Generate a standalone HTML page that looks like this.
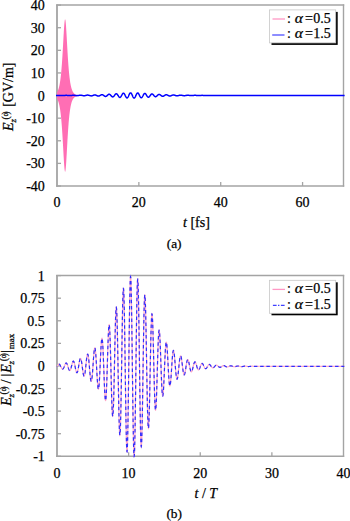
<!DOCTYPE html>
<html><head><meta charset="utf-8"><style>
html,body{margin:0;padding:0;background:#fff;width:350px;height:521px;overflow:hidden}
svg{display:block}
svg{font-family:"Liberation Serif",serif;font-size:14px;fill:#000}
text{stroke:#000;stroke-width:0.25px}
</style></head><body>
<svg width="350" height="521" viewBox="0 0 350 521">
<rect width="350" height="521" fill="#fff"/>
<path d="M57.0,4.3999999999999995V186.7" stroke="#a4a4a4" stroke-width="1.8" fill="none"/>
<path d="M343.5,4.3999999999999995V186.7" stroke="#a4a4a4" stroke-width="1.4" fill="none"/>
<path d="M56.1,5.1H344.2" stroke="#a4a4a4" stroke-width="1.5" fill="none"/>
<path d="M56.1,186.0H344.2" stroke="#a4a4a4" stroke-width="1.5" fill="none"/>
<path d="M57.0,27.71H61.0" stroke="#a4a4a4" stroke-width="1.3"/>
<text x="44.8" y="32.81" text-anchor="end">30</text>
<path d="M57.0,50.32H61.0" stroke="#a4a4a4" stroke-width="1.3"/>
<text x="44.8" y="55.42" text-anchor="end">20</text>
<path d="M57.0,72.94H61.0" stroke="#a4a4a4" stroke-width="1.3"/>
<text x="44.8" y="78.04" text-anchor="end">10</text>
<path d="M57.0,95.55H61.0" stroke="#a4a4a4" stroke-width="1.3"/>
<text x="44.8" y="100.65" text-anchor="end">0</text>
<path d="M57.0,118.16H61.0" stroke="#a4a4a4" stroke-width="1.3"/>
<text x="44.8" y="123.26" text-anchor="end">-10</text>
<path d="M57.0,140.78H61.0" stroke="#a4a4a4" stroke-width="1.3"/>
<text x="44.8" y="145.88" text-anchor="end">-20</text>
<path d="M57.0,163.39H61.0" stroke="#a4a4a4" stroke-width="1.3"/>
<text x="44.8" y="168.49" text-anchor="end">-30</text>
<path d="M57.0,5.10H61.0" stroke="#a4a4a4" stroke-width="1.3"/>
<text x="44.8" y="10.20" text-anchor="end">40</text>
<path d="M57.0,186.00H61.0" stroke="#a4a4a4" stroke-width="1.3"/>
<text x="44.8" y="191.10" text-anchor="end">-40</text>
<text x="57.00" y="206.70" text-anchor="middle">0</text>
<path d="M138.86,186.0V182.0" stroke="#a4a4a4" stroke-width="1.3"/>
<text x="138.86" y="206.70" text-anchor="middle">20</text>
<path d="M220.71,186.0V182.0" stroke="#a4a4a4" stroke-width="1.3"/>
<text x="220.71" y="206.70" text-anchor="middle">40</text>
<path d="M302.57,186.0V182.0" stroke="#a4a4a4" stroke-width="1.3"/>
<text x="302.57" y="206.70" text-anchor="middle">60</text>
<polygon points="57.00,92.33 57.08,92.20 57.17,92.07 57.25,91.93 57.33,91.78 57.41,91.63 57.50,91.47 57.58,91.31 57.66,91.14 57.74,90.96 57.83,90.78 57.91,90.59 57.99,90.39 58.08,90.18 58.16,89.97 58.24,89.75 58.32,89.51 58.41,89.27 58.49,89.02 58.57,88.76 58.65,88.49 58.74,88.20 58.82,87.91 58.90,87.61 58.98,87.29 59.07,86.96 59.15,86.62 59.23,86.26 59.32,85.89 59.40,85.50 59.48,85.10 59.56,84.69 59.65,84.26 59.73,83.81 59.81,83.34 59.89,82.86 59.98,82.36 60.06,81.84 60.14,81.30 60.23,80.73 60.31,80.15 60.39,79.55 60.47,78.92 60.56,78.27 60.64,77.59 60.72,76.89 60.80,76.17 60.89,75.41 60.97,74.64 61.05,73.83 61.14,73.00 61.22,72.13 61.30,71.24 61.38,70.32 61.47,69.36 61.55,68.38 61.63,67.37 61.71,66.32 61.80,65.24 61.88,64.13 61.96,62.98 62.05,61.81 62.13,60.60 62.21,59.36 62.29,58.09 62.38,56.79 62.46,55.46 62.54,54.11 62.62,52.73 62.71,51.32 62.79,49.89 62.87,48.44 62.95,46.97 63.04,45.49 63.12,44.00 63.20,42.50 63.29,41.00 63.37,39.51 63.45,38.02 63.53,36.54 63.62,35.08 63.70,33.64 63.78,32.24 63.86,30.87 63.95,29.54 64.03,28.27 64.11,27.06 64.20,25.91 64.28,24.83 64.36,23.84 64.44,22.93 64.53,22.11 64.61,21.39 64.69,20.77 64.77,20.26 64.86,19.86 64.94,19.57 65.02,19.40 65.11,19.35 65.19,19.42 65.27,19.60 65.35,19.90 65.44,20.32 65.52,20.84 65.60,21.47 65.68,22.21 65.77,23.04 65.85,23.96 65.93,24.97 66.02,26.05 66.10,27.21 66.18,28.43 66.26,29.71 66.35,31.04 66.43,32.41 66.51,33.82 66.59,35.26 66.68,36.72 66.76,38.20 66.84,39.70 66.92,41.20 67.01,42.70 67.09,44.19 67.17,45.68 67.26,47.16 67.34,48.63 67.42,50.07 67.50,51.50 67.59,52.90 67.67,54.28 67.75,55.64 67.83,56.96 67.92,58.26 68.00,59.52 68.08,60.76 68.17,61.96 68.25,63.13 68.33,64.27 68.41,65.38 68.50,66.45 68.58,67.50 68.66,68.51 68.74,69.49 68.83,70.44 68.91,71.36 68.99,72.24 69.08,73.10 69.16,73.93 69.24,74.74 69.32,75.51 69.41,76.26 69.49,76.98 69.57,77.68 69.65,78.35 69.74,79.00 69.82,79.62 69.90,80.23 69.98,80.81 70.07,81.37 70.15,81.90 70.23,82.42 70.32,82.92 70.40,83.40 70.48,83.87 70.56,84.31 70.65,84.74 70.73,85.16 70.81,85.55 70.89,85.94 70.98,86.31 71.06,86.66 71.14,87.00 71.23,87.33 71.31,87.65 71.39,87.95 71.47,88.24 71.56,88.52 71.64,88.79 71.72,89.05 71.80,89.30 71.89,89.54 71.97,89.77 72.05,90.00 72.14,90.21 72.22,90.42 72.30,90.61 72.38,90.80 72.47,90.99 72.55,91.16 72.63,91.33 72.71,91.50 72.80,91.65 72.88,91.80 72.96,91.95 73.05,92.09 73.13,92.22 73.21,92.35 73.29,92.47 73.38,92.59 73.46,92.70 73.54,92.81 73.62,92.92 73.71,93.02 73.79,93.12 73.87,93.21 73.95,93.30 74.04,93.39 74.12,93.47 74.20,93.55 74.29,93.63 74.37,93.70 74.45,93.78 74.53,93.84 74.62,93.91 74.70,93.97 74.78,94.03 74.86,94.09 74.95,94.15 75.03,94.20 75.11,94.26 75.20,94.31 75.28,94.35 75.36,94.40 75.44,94.44 75.53,94.49 75.61,94.53 75.69,94.57 75.77,94.61 75.86,94.64 75.94,94.68 76.02,94.71 76.11,94.74 76.19,94.77 76.27,94.80 76.35,94.83 76.44,94.86 76.52,94.89 76.60,94.91 76.68,94.94 76.77,94.96 76.85,94.98 76.93,95.01 77.02,95.03 77.10,95.05 77.18,95.07 77.26,95.08 77.35,95.10 77.43,95.12 77.51,95.14 77.59,95.15 77.68,95.17 77.76,95.18 77.84,95.20 77.92,95.21 78.01,95.22 78.09,95.24 78.17,95.25 78.26,95.26 78.34,95.27 78.42,95.28 78.50,95.29 78.59,95.30 78.67,95.31 78.75,95.32 78.83,95.33 78.92,95.34 79.00,95.35 79.08,95.35 79.17,95.36 79.25,95.37 79.33,95.38 79.41,95.38 79.50,95.39 79.58,95.40 79.66,95.40 79.74,95.41 79.83,95.41 79.91,95.42 79.99,95.42 80.08,95.43 80.16,95.43 80.24,95.44 80.32,95.44 80.41,95.45 80.49,95.45 80.57,95.45 80.65,95.46 80.74,95.46 80.82,95.46 80.90,95.47 80.98,95.47 81.07,95.47 81.15,95.48 81.23,95.48 81.32,95.48 81.40,95.49 81.48,95.49 81.56,95.49 81.65,95.49 81.73,95.49 81.81,95.50 81.89,95.50 81.98,95.50 82.06,95.50 82.14,95.50 82.23,95.51 82.31,95.51 82.39,95.51 82.47,95.51 82.56,95.51 82.64,95.51 82.72,95.52 82.80,95.52 82.89,95.52 82.97,95.52 83.05,95.52 83.14,95.52 83.22,95.52 83.30,95.52 83.38,95.52 83.47,95.53 83.55,95.53 83.63,95.53 83.71,95.53 83.80,95.53 83.88,95.53 83.96,95.53 84.05,95.53 84.13,95.53 84.21,95.53 84.29,95.53 84.38,95.53 84.46,95.53 84.54,95.54 84.62,95.54 84.71,95.54 84.79,95.54 84.87,95.54 84.95,95.54 85.04,95.54 85.12,95.54 85.20,95.54 85.29,95.54 85.37,95.54 85.45,95.54 85.53,95.54 85.62,95.54 85.70,95.54 85.78,95.54 85.86,95.54 85.95,95.54 86.03,95.54 86.11,95.54 86.20,95.54 86.28,95.54 86.36,95.54 86.44,95.54 86.53,95.54 86.61,95.54 86.69,95.54 86.77,95.54 86.86,95.55 86.94,95.55 87.02,95.55 87.11,95.55 87.19,95.55 87.27,95.55 87.35,95.55 87.44,95.55 87.52,95.55 87.60,95.55 87.68,95.55 87.77,95.55 87.85,95.55 87.93,95.55 88.02,95.55 88.10,95.55 88.18,95.55 88.26,95.55 88.35,95.55 88.43,95.55 88.51,95.55 88.59,95.55 88.68,95.55 88.76,95.55 88.84,95.55 88.92,95.55 89.01,95.55 89.09,95.55 89.17,95.55 89.26,95.55 89.34,95.55 89.42,95.55 89.50,95.55 89.59,95.55 89.67,95.55 89.75,95.55 89.83,95.55 89.92,95.55 90.00,95.55 90.00,95.55 89.92,95.55 89.83,95.55 89.75,95.55 89.67,95.55 89.59,95.55 89.50,95.55 89.42,95.55 89.34,95.55 89.26,95.55 89.17,95.55 89.09,95.55 89.01,95.55 88.92,95.55 88.84,95.55 88.76,95.55 88.68,95.55 88.59,95.55 88.51,95.55 88.43,95.55 88.35,95.55 88.26,95.55 88.18,95.55 88.10,95.55 88.02,95.55 87.93,95.55 87.85,95.55 87.77,95.55 87.68,95.55 87.60,95.55 87.52,95.55 87.44,95.55 87.35,95.55 87.27,95.55 87.19,95.55 87.11,95.55 87.02,95.55 86.94,95.55 86.86,95.55 86.77,95.56 86.69,95.56 86.61,95.56 86.53,95.56 86.44,95.56 86.36,95.56 86.28,95.56 86.20,95.56 86.11,95.56 86.03,95.56 85.95,95.56 85.86,95.56 85.78,95.56 85.70,95.56 85.62,95.56 85.53,95.56 85.45,95.56 85.37,95.56 85.29,95.56 85.20,95.56 85.12,95.56 85.04,95.56 84.95,95.56 84.87,95.56 84.79,95.56 84.71,95.56 84.62,95.56 84.54,95.56 84.46,95.57 84.38,95.57 84.29,95.57 84.21,95.57 84.13,95.57 84.05,95.57 83.96,95.57 83.88,95.57 83.80,95.57 83.71,95.57 83.63,95.57 83.55,95.57 83.47,95.57 83.38,95.58 83.30,95.58 83.22,95.58 83.14,95.58 83.05,95.58 82.97,95.58 82.89,95.58 82.80,95.58 82.72,95.58 82.64,95.59 82.56,95.59 82.47,95.59 82.39,95.59 82.31,95.59 82.23,95.59 82.14,95.60 82.06,95.60 81.98,95.60 81.89,95.60 81.81,95.60 81.73,95.61 81.65,95.61 81.56,95.61 81.48,95.61 81.40,95.61 81.32,95.62 81.23,95.62 81.15,95.62 81.07,95.63 80.98,95.63 80.90,95.63 80.82,95.64 80.74,95.64 80.65,95.64 80.57,95.65 80.49,95.65 80.41,95.65 80.32,95.66 80.24,95.66 80.16,95.67 80.08,95.67 79.99,95.68 79.91,95.68 79.83,95.69 79.74,95.69 79.66,95.70 79.58,95.70 79.50,95.71 79.41,95.72 79.33,95.72 79.25,95.73 79.17,95.74 79.08,95.75 79.00,95.75 78.92,95.76 78.83,95.77 78.75,95.78 78.67,95.79 78.59,95.80 78.50,95.81 78.42,95.82 78.34,95.83 78.26,95.84 78.17,95.85 78.09,95.86 78.01,95.88 77.92,95.89 77.84,95.90 77.76,95.92 77.68,95.93 77.59,95.95 77.51,95.96 77.43,95.98 77.35,96.00 77.26,96.02 77.18,96.03 77.10,96.05 77.02,96.07 76.93,96.09 76.85,96.12 76.77,96.14 76.68,96.16 76.60,96.19 76.52,96.21 76.44,96.24 76.35,96.27 76.27,96.30 76.19,96.33 76.11,96.36 76.02,96.39 75.94,96.42 75.86,96.46 75.77,96.49 75.69,96.53 75.61,96.57 75.53,96.61 75.44,96.66 75.36,96.70 75.28,96.75 75.20,96.79 75.11,96.84 75.03,96.90 74.95,96.95 74.86,97.01 74.78,97.07 74.70,97.13 74.62,97.19 74.53,97.26 74.45,97.32 74.37,97.40 74.29,97.47 74.20,97.55 74.12,97.63 74.04,97.71 73.95,97.80 73.87,97.89 73.79,97.98 73.71,98.08 73.62,98.18 73.54,98.29 73.46,98.40 73.38,98.51 73.29,98.63 73.21,98.75 73.13,98.88 73.05,99.01 72.96,99.15 72.88,99.30 72.80,99.45 72.71,99.60 72.63,99.77 72.55,99.94 72.47,100.11 72.38,100.30 72.30,100.49 72.22,100.68 72.14,100.89 72.05,101.10 71.97,101.33 71.89,101.56 71.80,101.80 71.72,102.05 71.64,102.31 71.56,102.58 71.47,102.86 71.39,103.15 71.31,103.45 71.23,103.77 71.14,104.10 71.06,104.44 70.98,104.79 70.89,105.16 70.81,105.55 70.73,105.94 70.65,106.36 70.56,106.79 70.48,107.23 70.40,107.70 70.32,108.18 70.23,108.68 70.15,109.20 70.07,109.73 69.98,110.29 69.90,110.87 69.82,111.48 69.74,112.10 69.65,112.75 69.57,113.42 69.49,114.12 69.41,114.84 69.32,115.59 69.24,116.36 69.16,117.17 69.08,118.00 68.99,118.86 68.91,119.74 68.83,120.66 68.74,121.61 68.66,122.59 68.58,123.60 68.50,124.65 68.41,125.72 68.33,126.83 68.25,127.97 68.17,129.14 68.08,130.34 68.00,131.58 67.92,132.84 67.83,134.14 67.75,135.46 67.67,136.82 67.59,138.20 67.50,139.60 67.42,141.03 67.34,142.47 67.26,143.94 67.17,145.42 67.09,146.91 67.01,148.40 66.92,149.90 66.84,151.40 66.76,152.90 66.68,154.38 66.59,155.84 66.51,157.28 66.43,158.69 66.35,160.06 66.26,161.39 66.18,162.67 66.10,163.89 66.02,165.05 65.93,166.13 65.85,167.14 65.77,168.06 65.68,168.89 65.60,169.63 65.52,170.26 65.44,170.78 65.35,171.20 65.27,171.50 65.19,171.68 65.11,171.75 65.02,171.70 64.94,171.53 64.86,171.24 64.77,170.84 64.69,170.33 64.61,169.71 64.53,168.99 64.44,168.17 64.36,167.26 64.28,166.27 64.20,165.19 64.11,164.04 64.03,162.83 63.95,161.56 63.86,160.23 63.78,158.86 63.70,157.46 63.62,156.02 63.53,154.56 63.45,153.08 63.37,151.59 63.29,150.10 63.20,148.60 63.12,147.10 63.04,145.61 62.95,144.13 62.87,142.66 62.79,141.21 62.71,139.78 62.62,138.37 62.54,136.99 62.46,135.64 62.38,134.31 62.29,133.01 62.21,131.74 62.13,130.50 62.05,129.29 61.96,128.12 61.88,126.97 61.80,125.86 61.71,124.78 61.63,123.73 61.55,122.72 61.47,121.74 61.38,120.78 61.30,119.86 61.22,118.97 61.14,118.10 61.05,117.27 60.97,116.46 60.89,115.69 60.80,114.93 60.72,114.21 60.64,113.51 60.56,112.83 60.47,112.18 60.39,111.55 60.31,110.95 60.23,110.37 60.14,109.80 60.06,109.26 59.98,108.74 59.89,108.24 59.81,107.76 59.73,107.29 59.65,106.84 59.56,106.41 59.48,106.00 59.40,105.60 59.32,105.21 59.23,104.84 59.15,104.48 59.07,104.14 58.98,103.81 58.90,103.49 58.82,103.19 58.74,102.90 58.65,102.61 58.57,102.34 58.49,102.08 58.41,101.83 58.32,101.59 58.24,101.35 58.16,101.13 58.08,100.92 57.99,100.71 57.91,100.51 57.83,100.32 57.74,100.14 57.66,99.96 57.58,99.79 57.50,99.63 57.41,99.47 57.33,99.32 57.25,99.17 57.17,99.03 57.08,98.90 57.00,98.77" fill="#ff6eb4"/>
<polyline points="56.00,95.46 57.14,95.45 57.29,95.44 57.43,95.44 57.57,95.43 57.72,95.42 57.86,95.42 58.00,95.41 58.15,95.40 58.29,95.40 58.43,95.39 58.58,95.39 58.72,95.39 58.86,95.39 59.01,95.39 59.15,95.39 59.29,95.39 59.44,95.39 59.58,95.39 59.72,95.40 59.87,95.40 60.01,95.41 60.15,95.42 60.30,95.42 60.44,95.43 60.58,95.44 60.73,95.45 60.87,95.46 61.01,95.47 61.16,95.48 61.30,95.49 61.44,95.49 61.59,95.50 61.73,95.51 61.87,95.51 62.02,95.52 62.16,95.52 62.30,95.53 62.45,95.53 62.59,95.53 62.73,95.53 62.88,95.53 63.02,95.52 63.16,95.52 63.31,95.51 63.45,95.51 63.59,95.50 63.74,95.49 63.88,95.48 64.02,95.47 64.17,95.46 64.31,95.45 64.45,95.44 64.60,95.43 64.74,95.42 64.88,95.41 65.03,95.40 65.17,95.39 65.31,95.38 65.46,95.37 65.60,95.36 65.74,95.36 65.89,95.36 66.03,95.35 66.17,95.35 66.32,95.35 66.46,95.36 66.60,95.36 66.75,95.37 66.89,95.37 67.03,95.38 67.18,95.39 67.32,95.40 67.46,95.41 67.61,95.42 67.75,95.44 67.89,95.45 68.04,95.46 68.18,95.48 68.32,95.49 68.47,95.50 68.61,95.52 68.75,95.53 68.90,95.54 69.04,95.55 69.18,95.56 69.33,95.56 69.47,95.57 69.61,95.57 69.76,95.57 69.90,95.57 70.04,95.57 70.19,95.56 70.33,95.55 70.47,95.55 70.62,95.54 70.76,95.52 70.90,95.51 71.05,95.50 71.19,95.48 71.33,95.47 71.48,95.45 71.62,95.43 71.76,95.42 71.91,95.40 72.05,95.38 72.19,95.37 72.34,95.35 72.48,95.34 72.62,95.33 72.77,95.32 72.91,95.31 73.05,95.31 73.20,95.30 73.34,95.30 73.48,95.30 73.63,95.31 73.77,95.31 73.91,95.32 74.06,95.33 74.20,95.34 74.34,95.36 74.49,95.37 74.63,95.39 74.77,95.41 74.92,95.43 75.06,95.45 75.20,95.47 75.35,95.49 75.49,95.51 75.63,95.53 75.78,95.55 75.92,95.57 76.06,95.59 76.21,95.60 76.35,95.61 76.49,95.62 76.64,95.63 76.78,95.63 76.92,95.63 77.07,95.63 77.21,95.63 77.35,95.62 77.49,95.61 77.64,95.60 77.78,95.58 77.92,95.56 78.07,95.54 78.21,95.52 78.35,95.50 78.50,95.47 78.64,95.45 78.78,95.42 78.93,95.40 79.07,95.37 79.21,95.35 79.36,95.32 79.50,95.30 79.64,95.28 79.79,95.26 79.93,95.25 80.07,95.24 80.22,95.23 80.36,95.22 80.50,95.22 80.65,95.22 80.79,95.23 80.93,95.24 81.08,95.25 81.22,95.27 81.36,95.29 81.51,95.31 81.65,95.33 81.79,95.36 81.94,95.39 82.08,95.42 82.22,95.45 82.37,95.48 82.51,95.52 82.65,95.55 82.80,95.58 82.94,95.61 83.08,95.63 83.23,95.66 83.37,95.68 83.51,95.70 83.66,95.71 83.80,95.72 83.94,95.73 84.09,95.73 84.23,95.73 84.37,95.72 84.52,95.71 84.66,95.69 84.80,95.67 84.95,95.65 85.09,95.62 85.23,95.59 85.38,95.56 85.52,95.52 85.66,95.49 85.81,95.45 85.95,95.41 86.09,95.37 86.24,95.33 86.38,95.29 86.52,95.25 86.67,95.22 86.81,95.19 86.95,95.16 87.10,95.14 87.24,95.12 87.38,95.11 87.53,95.10 87.67,95.10 87.81,95.10 87.96,95.11 88.10,95.13 88.24,95.15 88.39,95.17 88.53,95.20 88.67,95.24 88.82,95.27 88.96,95.32 89.10,95.36 89.25,95.41 89.39,95.46 89.53,95.50 89.68,95.55 89.82,95.60 89.96,95.65 90.11,95.69 90.25,95.73 90.39,95.77 90.54,95.80 90.68,95.83 90.82,95.85 90.97,95.87 91.11,95.88 91.25,95.88 91.40,95.88 91.54,95.87 91.68,95.85 91.83,95.82 91.97,95.79 92.11,95.76 92.26,95.71 92.40,95.67 92.54,95.61 92.69,95.56 92.83,95.50 92.97,95.44 93.12,95.38 93.26,95.32 93.40,95.26 93.55,95.21 93.69,95.15 93.83,95.10 93.98,95.05 94.12,95.01 94.26,94.98 94.41,94.95 94.55,94.93 94.69,94.92 94.84,94.92 94.98,94.92 95.12,94.94 95.27,94.96 95.41,94.99 95.55,95.03 95.70,95.07 95.84,95.13 95.98,95.18 96.13,95.25 96.27,95.32 96.41,95.39 96.56,95.46 96.70,95.53 96.84,95.61 96.99,95.68 97.13,95.75 97.27,95.82 97.42,95.88 97.56,95.94 97.70,95.99 97.85,96.03 97.99,96.06 98.13,96.09 98.28,96.10 98.42,96.10 98.56,96.10 98.71,96.08 98.85,96.05 98.99,96.02 99.14,95.97 99.28,95.91 99.42,95.85 99.57,95.78 99.71,95.70 99.85,95.61 100.00,95.53 100.14,95.44 100.28,95.34 100.43,95.25 100.57,95.16 100.71,95.08 100.86,95.00 101.00,94.92 101.14,94.85 101.29,94.79 101.43,94.74 101.57,94.70 101.72,94.67 101.86,94.65 102.00,94.65 102.15,94.66 102.29,94.68 102.43,94.71 102.58,94.76 102.72,94.81 102.86,94.88 103.01,94.96 103.15,95.05 103.29,95.15 103.44,95.25 103.58,95.36 103.72,95.47 103.87,95.58 104.01,95.69 104.15,95.80 104.30,95.91 104.44,96.01 104.58,96.10 104.73,96.19 104.87,96.26 105.01,96.32 105.16,96.37 105.30,96.41 105.44,96.43 105.59,96.43 105.73,96.42 105.87,96.39 106.02,96.35 106.16,96.30 106.30,96.22 106.45,96.14 106.59,96.04 106.73,95.93 106.88,95.82 107.02,95.69 107.16,95.56 107.31,95.43 107.45,95.29 107.59,95.15 107.74,95.02 107.88,94.89 108.02,94.77 108.17,94.66 108.31,94.55 108.45,94.47 108.60,94.39 108.74,94.33 108.88,94.29 109.03,94.27 109.17,94.26 109.31,94.27 109.46,94.31 109.60,94.36 109.74,94.43 109.89,94.51 110.03,94.62 110.17,94.73 110.32,94.86 110.46,95.01 110.60,95.16 110.75,95.32 110.89,95.48 111.03,95.65 111.18,95.81 111.32,95.97 111.46,96.13 111.61,96.27 111.75,96.41 111.89,96.53 112.04,96.64 112.18,96.73 112.32,96.80 112.47,96.85 112.61,96.88 112.75,96.88 112.90,96.86 113.04,96.82 113.18,96.76 113.33,96.68 113.47,96.57 113.61,96.45 113.76,96.31 113.90,96.15 114.04,95.98 114.19,95.80 114.33,95.61 114.47,95.41 114.62,95.21 114.76,95.02 114.90,94.83 115.05,94.64 115.19,94.47 115.33,94.31 115.48,94.16 115.62,94.04 115.76,93.93 115.91,93.85 116.05,93.79 116.19,93.76 116.34,93.75 116.48,93.77 116.62,93.82 116.77,93.90 116.91,94.00 117.05,94.12 117.20,94.27 117.34,94.44 117.48,94.63 117.63,94.83 117.77,95.05 117.91,95.27 118.06,95.50 118.20,95.73 118.34,95.96 118.48,96.19 118.63,96.40 118.77,96.60 118.91,96.79 119.06,96.96 119.20,97.10 119.34,97.22 119.49,97.32 119.63,97.38 119.77,97.42 119.92,97.42 120.06,97.40 120.20,97.34 120.35,97.25 120.49,97.13 120.63,96.98 120.78,96.81 120.92,96.61 121.06,96.39 121.21,96.16 121.35,95.91 121.49,95.65 121.64,95.39 121.78,95.12 121.92,94.86 122.07,94.61 122.21,94.36 122.35,94.13 122.50,93.92 122.64,93.73 122.78,93.57 122.93,93.43 123.07,93.33 123.21,93.26 123.36,93.22 123.50,93.22 123.64,93.25 123.79,93.32 123.93,93.42 124.07,93.56 124.22,93.73 124.36,93.93 124.50,94.15 124.65,94.39 124.79,94.66 124.93,94.94 125.08,95.23 125.22,95.52 125.36,95.82 125.51,96.11 125.65,96.39 125.79,96.66 125.94,96.91 126.08,97.15 126.22,97.35 126.37,97.53 126.51,97.67 126.65,97.78 126.80,97.86 126.94,97.90 127.08,97.89 127.23,97.85 127.37,97.77 127.51,97.65 127.66,97.50 127.80,97.32 127.94,97.10 128.09,96.85 128.23,96.59 128.37,96.30 128.52,96.00 128.66,95.69 128.80,95.37 128.95,95.05 129.09,94.74 129.23,94.44 129.38,94.15 129.52,93.89 129.66,93.64 129.81,93.43 129.95,93.24 130.09,93.10 130.24,92.98 130.38,92.91 130.52,92.88 130.67,92.88 130.81,92.93 130.95,93.02 131.10,93.15 131.24,93.31 131.38,93.51 131.53,93.74 131.67,94.00 131.81,94.28 131.96,94.57 132.10,94.89 132.24,95.21 132.39,95.54 132.53,95.86 132.67,96.18 132.82,96.49 132.96,96.78 133.10,97.05 133.25,97.29 133.39,97.51 133.53,97.69 133.68,97.84 133.82,97.94 133.96,98.01 134.11,98.04 134.25,98.03 134.39,97.98 134.54,97.88 134.68,97.75 134.82,97.58 134.97,97.38 135.11,97.15 135.25,96.89 135.40,96.61 135.54,96.31 135.68,96.00 135.83,95.68 135.97,95.36 136.11,95.04 136.26,94.73 136.40,94.43 136.54,94.15 136.69,93.89 136.83,93.66 136.97,93.45 137.12,93.28 137.26,93.14 137.40,93.04 137.55,92.98 137.69,92.96 137.83,92.97 137.98,93.03 138.12,93.12 138.26,93.25 138.41,93.42 138.55,93.61 138.69,93.84 138.84,94.09 138.98,94.35 139.12,94.64 139.27,94.93 139.41,95.23 139.55,95.54 139.70,95.84 139.84,96.13 139.98,96.41 140.13,96.67 140.27,96.91 140.41,97.12 140.56,97.31 140.70,97.47 140.84,97.59 140.99,97.68 141.13,97.74 141.27,97.75 141.42,97.73 141.56,97.68 141.70,97.59 141.85,97.46 141.99,97.31 142.13,97.13 142.28,96.92 142.42,96.69 142.56,96.44 142.71,96.18 142.85,95.92 142.99,95.64 143.14,95.37 143.28,95.10 143.42,94.83 143.57,94.58 143.71,94.35 143.85,94.14 144.00,93.94 144.14,93.78 144.28,93.64 144.43,93.53 144.57,93.46 144.71,93.41 144.86,93.40 145.00,93.42 145.14,93.47 145.29,93.56 145.43,93.67 145.57,93.81 145.72,93.97 145.86,94.16 146.00,94.36 146.15,94.58 146.29,94.81 146.43,95.04 146.58,95.28 146.72,95.53 146.86,95.76 147.01,95.99 147.15,96.21 147.29,96.41 147.44,96.60 147.58,96.76 147.72,96.91 147.87,97.02 148.01,97.12 148.15,97.18 148.30,97.22 148.44,97.22 148.58,97.20 148.73,97.16 148.87,97.08 149.01,96.99 149.16,96.86 149.30,96.72 149.44,96.56 149.59,96.39 149.73,96.20 149.87,96.00 150.02,95.80 150.16,95.59 150.30,95.38 150.45,95.18 150.59,94.99 150.73,94.80 150.88,94.63 151.02,94.47 151.16,94.33 151.31,94.21 151.45,94.11 151.59,94.03 151.74,93.98 151.88,93.95 152.02,93.95 152.17,93.96 152.31,94.01 152.45,94.07 152.60,94.15 152.74,94.26 152.88,94.38 153.03,94.51 153.17,94.66 153.31,94.82 153.46,94.99 153.60,95.16 153.74,95.34 153.89,95.51 154.03,95.68 154.17,95.84 154.32,96.00 154.46,96.14 154.60,96.27 154.75,96.39 154.89,96.49 155.03,96.57 155.18,96.63 155.32,96.68 155.46,96.70 155.61,96.70 155.75,96.69 155.89,96.65 156.04,96.60 156.18,96.53 156.32,96.44 156.47,96.34 156.61,96.23 156.75,96.10 156.90,95.97 157.04,95.83 157.18,95.69 157.33,95.54 157.47,95.40 157.61,95.26 157.76,95.12 157.90,95.00 158.04,94.88 158.19,94.77 158.33,94.67 158.47,94.59 158.62,94.52 158.76,94.47 158.90,94.44 159.05,94.42 159.19,94.41 159.33,94.43 159.47,94.46 159.62,94.50 159.76,94.56 159.90,94.63 160.05,94.72 160.19,94.81 160.33,94.91 160.48,95.02 160.62,95.14 160.76,95.26 160.91,95.37 161.05,95.49 161.19,95.61 161.34,95.72 161.48,95.82 161.62,95.92 161.77,96.01 161.91,96.09 162.05,96.16 162.20,96.21 162.34,96.25 162.48,96.28 162.63,96.30 162.77,96.30 162.91,96.29 163.06,96.26 163.20,96.22 163.34,96.18 163.49,96.12 163.63,96.05 163.77,95.97 163.92,95.89 164.06,95.80 164.20,95.70 164.35,95.61 164.49,95.51 164.63,95.41 164.78,95.32 164.92,95.23 165.06,95.14 165.21,95.06 165.35,94.99 165.49,94.93 165.64,94.87 165.78,94.83 165.92,94.79 166.07,94.77 166.21,94.76 166.35,94.76 166.50,94.77 166.64,94.79 166.78,94.82 166.93,94.86 167.07,94.91 167.21,94.96 167.36,95.03 167.50,95.10 167.64,95.17 167.79,95.24 167.93,95.32 168.07,95.40 168.22,95.48 168.36,95.56 168.50,95.63 168.65,95.70 168.79,95.76 168.93,95.82 169.08,95.88 169.22,95.92 169.36,95.96 169.51,95.98 169.65,96.00 169.79,96.01 169.94,96.01 170.08,96.00 170.22,95.99 170.37,95.96 170.51,95.93 170.65,95.89 170.80,95.84 170.94,95.79 171.08,95.74 171.23,95.68 171.37,95.62 171.51,95.55 171.66,95.49 171.80,95.42 171.94,95.36 172.09,95.30 172.23,95.25 172.37,95.19 172.52,95.15 172.66,95.10 172.80,95.07 172.95,95.04 173.09,95.02 173.23,95.00 173.38,94.99 173.52,94.99 173.66,95.00 173.81,95.01 173.95,95.03 174.09,95.06 174.24,95.09 174.38,95.13 174.52,95.17 174.67,95.22 174.81,95.27 174.95,95.32 175.10,95.37 175.24,95.42 175.38,95.47 175.53,95.52 175.67,95.57 175.81,95.62 175.96,95.66 176.10,95.70 176.24,95.73 176.39,95.76 176.53,95.78 176.67,95.80 176.82,95.81 176.96,95.82 177.10,95.82 177.25,95.81 177.39,95.80 177.53,95.79 177.68,95.76 177.82,95.74 177.96,95.71 178.11,95.67 178.25,95.64 178.39,95.60 178.54,95.56 178.68,95.52 178.82,95.47 178.97,95.43 179.11,95.39 179.25,95.35 179.40,95.32 179.54,95.28 179.68,95.25 179.83,95.22 179.97,95.20 180.11,95.18 180.26,95.17 180.40,95.16 180.54,95.15 180.69,95.15 180.83,95.16 180.97,95.17 181.12,95.18 181.26,95.20 181.40,95.22 181.55,95.24 181.69,95.27 181.83,95.30 181.98,95.33 182.12,95.36 182.26,95.40 182.41,95.43 182.55,95.46 182.69,95.50 182.84,95.53 182.98,95.56 183.12,95.59 183.27,95.61 183.41,95.63 183.55,95.65 183.70,95.67 183.84,95.68 183.98,95.69 184.13,95.69 184.27,95.69 184.41,95.69 184.56,95.68 184.70,95.67 184.84,95.66 184.99,95.64 185.13,95.62 185.27,95.60 185.42,95.57 185.56,95.55 185.70,95.52 185.85,95.49 185.99,95.47 186.13,95.44 186.28,95.41 186.42,95.39 186.56,95.36 186.71,95.34 186.85,95.32 186.99,95.30 187.14,95.29 187.28,95.27 187.42,95.26 187.57,95.26 187.71,95.25 187.85,95.25 188.00,95.26 188.14,95.26 188.28,95.27 188.43,95.28 188.57,95.30 188.71,95.31 188.86,95.33 189.00,95.35 189.14,95.37 189.29,95.39 189.43,95.42 189.57,95.44 189.72,95.46 189.86,95.48 190.00,95.50 190.15,95.52 190.29,95.54 190.43,95.56 190.58,95.57 190.72,95.58 190.86,95.59 191.01,95.60 191.15,95.61 191.29,95.61 191.44,95.61 191.58,95.61 191.72,95.60 191.87,95.59 192.01,95.58 192.15,95.57 192.30,95.56 192.44,95.55 192.58,95.53 192.73,95.51 192.87,95.50 193.01,95.48 193.16,95.46 193.30,95.44 193.44,95.42 193.59,95.41 193.73,95.39 193.87,95.38 194.02,95.36 194.16,95.35 194.30,95.34 194.45,95.33 194.59,95.33 194.73,95.32 194.88,95.32 195.02,95.32 195.16,95.32 195.31,95.33 195.45,95.33 195.59,95.34 195.74,95.35 195.88,95.36 196.02,95.37 196.17,95.39 196.31,95.40 196.45,95.41 196.60,95.43 196.74,95.44 196.88,95.46 197.03,95.47 197.17,95.48 197.31,95.50 197.46,95.51 197.60,95.52 197.74,95.53 197.89,95.54 198.03,95.54 198.17,95.55 198.32,95.55 198.46,95.55 198.60,95.55 198.75,95.55 198.89,95.55 199.03,95.54 199.18,95.54 199.32,95.53 199.46,95.52 199.61,95.51 199.75,95.50 199.89,95.49 200.04,95.48 200.18,95.47 200.32,95.46 200.46,95.44 200.61,95.43 200.75,95.42 200.89,95.41 201.04,95.40 201.18,95.39 201.32,95.39 201.47,95.38 201.61,95.37 201.75,95.37 201.90,95.37 202.04,95.37 202.18,95.37 202.33,95.37 202.47,95.37 202.61,95.37 202.76,95.38 202.90,95.39 203.04,95.39 203.19,95.40 203.33,95.41 203.47,95.42 203.62,95.43 203.76,95.44 203.90,95.45 204.05,95.45 204.19,95.46 204.33,95.47 204.48,95.48 204.62,95.49 204.76,95.50 204.91,95.50 205.05,95.51 205.19,95.51 205.34,95.51 205.48,95.52 205.62,95.52 205.77,95.52 205.91,95.52 206.05,95.51 206.20,95.51 206.34,95.51 206.48,95.50 206.63,95.50 206.77,95.49 206.91,95.48 207.06,95.48 207.20,95.47 207.34,95.46 207.49,95.45 207.63,95.45 207.77,95.44 207.92,95.43 208.06,95.42 208.20,95.42 208.35,95.41 208.49,95.41 208.63,95.40 208.78,95.40 208.92,95.40 209.06,95.40 209.21,95.40 209.35,95.40 209.49,95.40 209.64,95.40 209.78,95.40 209.92,95.40 210.07,95.41 210.21,95.41 210.35,95.42 210.50,95.42 210.64,95.43 210.78,95.43 210.93,95.44 211.07,95.45 211.21,95.45 211.36,95.46 211.50,95.46 211.64,95.47 211.79,95.48 211.93,95.48 212.07,95.48 212.22,95.49 212.36,95.49 212.50,95.49 212.65,95.49 212.79,95.49 212.93,95.49 213.08,95.49 213.22,95.49 213.36,95.49 213.51,95.49 213.65,95.48 213.79,95.48 213.94,95.48 214.08,95.47 214.22,95.47 214.37,95.46 214.51,95.46 214.65,95.45 214.80,95.45 214.94,95.44 215.08,95.44 215.23,95.43 215.37,95.43 215.51,95.43 215.66,95.42 215.80,95.42 215.94,95.42 216.09,95.42 216.23,95.42 216.37,95.41 216.52,95.41 216.66,95.42 216.80,95.42 216.95,95.42 217.09,95.42 217.23,95.42 217.38,95.43 217.52,95.43 217.66,95.43 217.81,95.44 217.95,95.44 218.09,95.44 218.24,95.45 218.38,95.45 218.52,95.46 218.67,95.46 218.81,95.46 218.95,95.47 219.10,95.47 219.24,95.47 219.38,95.47 219.53,95.48 219.67,95.48 219.81,95.48 219.96,95.48 220.10,95.48 220.24,95.48 220.39,95.48 220.53,95.48 220.67,95.47 220.82,95.47 220.96,95.47 221.10,95.47 221.25,95.46 221.39,95.46 221.53,95.46 221.68,95.45 221.82,95.45 221.96,95.45 222.11,95.45 222.25,95.44 222.39,95.44 222.54,95.44 222.68,95.43 222.82,95.43 222.97,95.43 223.11,95.43 223.25,95.43 223.40,95.43 223.54,95.43 223.68,95.43 223.83,95.43 223.97,95.43 224.11,95.43 224.26,95.43 224.40,95.43 224.54,95.43 224.69,95.44 224.83,95.44 224.97,95.44 225.12,95.44 225.26,95.45 225.40,95.45 225.55,95.45 225.69,95.45 225.83,95.46 225.98,95.46 226.12,95.46 226.26,95.46 226.41,95.46 226.55,95.47 226.69,95.47 226.84,95.47 226.98,95.47 227.12,95.47 227.27,95.47 227.41,95.47 227.55,95.47 227.70,95.47 227.84,95.47 227.98,95.46 228.13,95.46 228.27,95.46 228.41,95.46 228.56,95.46 228.70,95.46 228.84,95.45 228.99,95.45 229.13,95.45 229.27,95.45 229.42,95.44 229.56,95.44 229.70,95.44 229.85,95.44 229.99,95.44 230.13,95.44 230.28,95.44 230.42,95.44 230.56,95.44 230.71,95.43 230.85,95.43 230.99,95.44 231.14,95.44 231.28,95.44 231.42,95.44 231.57,95.44 231.71,95.44 231.85,95.44 232.00,95.44 232.14,95.44 232.28,95.45 232.43,95.45 232.57,95.45 232.71,95.45 232.86,95.45 233.00,95.45 233.14,95.46 233.29,95.46 233.43,95.46 233.57,95.46 233.72,95.46 233.86,95.46 234.00,95.46 234.15,95.46 234.29,95.46 234.43,95.46 234.58,95.46 234.72,95.46 234.86,95.46 235.01,95.46 235.15,95.46 235.29,95.46 235.44,95.46 235.58,95.46 235.72,95.45 235.87,95.45 236.01,95.45 236.15,95.45 236.30,95.45 236.44,95.45 236.58,95.45 236.73,95.45 236.87,95.44 237.01,95.44 237.16,95.44 237.30,95.44 237.44,95.44 237.59,95.44 237.73,95.44 237.87,95.44 238.02,95.44 238.16,95.44 238.30,95.44 238.45,95.44 238.59,95.44 238.73,95.44 238.88,95.44 239.02,95.44 239.16,95.45 239.31,95.45 239.45,95.45 239.59,95.45 239.74,95.45 239.88,95.45 240.02,95.45 240.17,95.45 240.31,95.45 240.45,95.45 240.60,95.46 240.74,95.46 240.88,95.46 241.03,95.46 241.17,95.46 241.31,95.46 241.45,95.46 241.60,95.46 241.74,95.46 241.88,95.46 242.03,95.46 242.17,95.46 242.31,95.46 242.46,95.46 242.60,95.45 242.74,95.45 242.89,95.45 243.03,95.45 243.17,95.45 243.32,95.45 243.46,95.45 243.60,95.45 243.75,95.45 243.89,95.45 244.03,95.45 244.18,95.45 244.32,95.45 244.46,95.44 244.61,95.44 244.75,95.44 244.89,95.44 245.04,95.44 245.18,95.44 245.32,95.44 245.47,95.44 245.61,95.44 245.75,95.44 245.90,95.45 246.04,95.45 246.18,95.45 246.33,95.45 246.47,95.45 246.61,95.45 246.76,95.45 246.90,95.45 247.04,95.45 247.19,95.45 247.33,95.45 247.47,95.45 247.62,95.45 247.76,95.45 247.90,95.45 248.05,95.45 248.19,95.45 248.33,95.45 248.48,95.46 248.62,95.46 248.76,95.46 248.91,95.46 249.05,95.45 249.19,95.45 249.34,95.45 249.48,95.45 249.62,95.45 249.77,95.45 249.91,95.45 250.05,95.45 250.20,95.45 250.34,95.45 250.48,95.45 250.63,95.45 250.77,95.45 250.91,95.45 251.06,95.45 251.20,95.45 251.34,95.45 251.49,95.45 251.63,95.45 251.77,95.45 251.92,95.45 252.06,95.45 252.20,95.45 252.35,95.45 252.49,95.45 252.63,95.45 252.78,95.45 252.92,95.45 253.06,95.45 253.21,95.45 253.35,95.45 253.49,95.45 253.64,95.45 253.78,95.45 253.92,95.45 254.07,95.45 254.21,95.45 254.35,95.45 254.50,95.45 254.64,95.45 254.78,95.45 254.93,95.45 255.07,95.45 255.21,95.45 255.36,95.45 255.50,95.45 255.64,95.45 255.79,95.45 255.93,95.45 256.07,95.45 256.22,95.45 256.36,95.45 256.50,95.45 256.65,95.45 256.79,95.45 256.93,95.45 257.08,95.45 257.22,95.45 257.36,95.45 257.51,95.45 257.65,95.45 257.79,95.45 257.94,95.45 258.08,95.45 258.22,95.45 258.37,95.45 258.51,95.45 258.65,95.45 258.80,95.45 258.94,95.45 259.08,95.45 259.23,95.45 259.37,95.45 259.51,95.45 259.66,95.45 259.80,95.45 259.94,95.45 260.09,95.45 260.23,95.45 260.37,95.45 260.52,95.45 260.66,95.45 260.80,95.45 260.95,95.45 261.09,95.45 261.23,95.45 261.38,95.45 261.52,95.45 261.66,95.45 261.81,95.45 261.95,95.45 262.09,95.45 262.24,95.45 262.38,95.45 262.52,95.45 262.67,95.45 262.81,95.45 262.95,95.45 263.10,95.45 263.24,95.45 263.38,95.45 263.53,95.45 263.67,95.45 263.81,95.45 263.96,95.45 264.10,95.45 264.24,95.45 264.39,95.45 264.53,95.45 264.67,95.45 264.82,95.45 264.96,95.45 265.10,95.45 265.25,95.45 265.39,95.45 265.53,95.45 265.68,95.45 265.82,95.45 265.96,95.45 266.11,95.45 266.25,95.45 266.39,95.45 266.54,95.45 266.68,95.45 266.82,95.45 266.97,95.45 267.11,95.45 267.25,95.45 267.40,95.45 267.54,95.45 267.68,95.45 267.83,95.45 267.97,95.45 268.11,95.45 268.26,95.45 268.40,95.45 268.54,95.45 268.69,95.45 268.83,95.45 268.97,95.45 269.12,95.45 269.26,95.45 269.40,95.45 269.55,95.45 269.69,95.45 269.83,95.45 269.98,95.45 270.12,95.45 270.26,95.45 270.41,95.45 270.55,95.45 270.69,95.45 270.84,95.45 270.98,95.45 271.12,95.45 271.27,95.45 271.41,95.45 271.55,95.45 271.70,95.45 271.84,95.45 271.98,95.45 272.13,95.45 272.27,95.45 272.41,95.45 272.56,95.45 272.70,95.45 272.84,95.45 272.99,95.45 273.13,95.45 273.27,95.45 273.42,95.45 273.56,95.45 273.70,95.45 273.85,95.45 273.99,95.45 274.13,95.45 274.28,95.45 274.42,95.45 274.56,95.45 274.71,95.45 274.85,95.45 274.99,95.45 275.14,95.45 275.28,95.45 275.42,95.45 275.57,95.45 275.71,95.45 275.85,95.45 276.00,95.45 276.14,95.45 276.28,95.45 276.43,95.45 276.57,95.45 276.71,95.45 276.86,95.45 277.00,95.45 277.14,95.45 277.29,95.45 277.43,95.45 277.57,95.45 277.72,95.45 277.86,95.45 278.00,95.45 278.15,95.45 278.29,95.45 278.43,95.45 278.58,95.45 278.72,95.45 278.86,95.45 279.01,95.45 279.15,95.45 279.29,95.45 279.44,95.45 279.58,95.45 279.72,95.45 279.87,95.45 280.01,95.45 280.15,95.45 280.30,95.45 280.44,95.45 280.58,95.45 280.73,95.45 280.87,95.45 281.01,95.45 281.16,95.45 281.30,95.45 281.44,95.45 281.59,95.45 281.73,95.45 281.87,95.45 282.02,95.45 282.16,95.45 282.30,95.45 282.44,95.45 282.59,95.45 282.73,95.45 282.87,95.45 283.02,95.45 283.16,95.45 283.30,95.45 283.45,95.45 283.59,95.45 283.73,95.45 283.88,95.45 284.02,95.45 284.16,95.45 284.31,95.45 284.45,95.45 284.59,95.45 284.74,95.45 284.88,95.45 285.02,95.45 285.17,95.45 285.31,95.45 285.45,95.45 285.60,95.45 285.74,95.45 285.88,95.45 286.03,95.45 286.17,95.45 286.31,95.45 286.46,95.45 286.60,95.45 286.74,95.45 286.89,95.45 287.03,95.45 287.17,95.45 287.32,95.45 287.46,95.45 287.60,95.45 287.75,95.45 287.89,95.45 288.03,95.45 288.18,95.45 288.32,95.45 288.46,95.45 288.61,95.45 288.75,95.45 288.89,95.45 289.04,95.45 289.18,95.45 289.32,95.45 289.47,95.45 289.61,95.45 289.75,95.45 289.90,95.45 290.04,95.45 290.18,95.45 290.33,95.45 290.47,95.45 290.61,95.45 290.76,95.45 290.90,95.45 291.04,95.45 291.19,95.45 291.33,95.45 291.47,95.45 291.62,95.45 291.76,95.45 291.90,95.45 292.05,95.45 292.19,95.45 292.33,95.45 292.48,95.45 292.62,95.45 292.76,95.45 292.91,95.45 293.05,95.45 293.19,95.45 293.34,95.45 293.48,95.45 293.62,95.45 293.77,95.45 293.91,95.45 294.05,95.45 294.20,95.45 294.34,95.45 294.48,95.45 294.63,95.45 294.77,95.45 294.91,95.45 295.06,95.45 295.20,95.45 295.34,95.45 295.49,95.45 295.63,95.45 295.77,95.45 295.92,95.45 296.06,95.45 296.20,95.45 296.35,95.45 296.49,95.45 296.63,95.45 296.78,95.45 296.92,95.45 297.06,95.45 297.21,95.45 297.35,95.45 297.49,95.45 297.64,95.45 297.78,95.45 297.92,95.45 298.07,95.45 298.21,95.45 298.35,95.45 298.50,95.45 298.64,95.45 298.78,95.45 298.93,95.45 299.07,95.45 299.21,95.45 299.36,95.45 299.50,95.45 299.64,95.45 299.79,95.45 299.93,95.45 300.07,95.45 300.22,95.45 300.36,95.45 300.50,95.45 300.65,95.45 300.79,95.45 300.93,95.45 301.08,95.45 301.22,95.45 301.36,95.45 301.51,95.45 301.65,95.45 301.79,95.45 301.94,95.45 302.08,95.45 302.22,95.45 302.37,95.45 302.51,95.45 302.65,95.45 302.80,95.45 302.94,95.45 303.08,95.45 303.23,95.45 303.37,95.45 303.51,95.45 303.66,95.45 303.80,95.45 303.94,95.45 304.09,95.45 304.23,95.45 304.37,95.45 304.52,95.45 304.66,95.45 304.80,95.45 304.95,95.45 305.09,95.45 305.23,95.45 305.38,95.45 305.52,95.45 305.66,95.45 305.81,95.45 305.95,95.45 306.09,95.45 306.24,95.45 306.38,95.45 306.52,95.45 306.67,95.45 306.81,95.45 306.95,95.45 307.10,95.45 307.24,95.45 307.38,95.45 307.53,95.45 307.67,95.45 307.81,95.45 307.96,95.45 308.10,95.45 308.24,95.45 308.39,95.45 308.53,95.45 308.67,95.45 308.82,95.45 308.96,95.45 309.10,95.45 309.25,95.45 309.39,95.45 309.53,95.45 309.68,95.45 309.82,95.45 309.96,95.45 310.11,95.45 310.25,95.45 310.39,95.45 310.54,95.45 310.68,95.45 310.82,95.45 310.97,95.45 311.11,95.45 311.25,95.45 311.40,95.45 311.54,95.45 311.68,95.45 311.83,95.45 311.97,95.45 312.11,95.45 312.26,95.45 312.40,95.45 312.54,95.45 312.69,95.45 312.83,95.45 312.97,95.45 313.12,95.45 313.26,95.45 313.40,95.45 313.55,95.45 313.69,95.45 313.83,95.45 313.98,95.45 314.12,95.45 314.26,95.45 314.41,95.45 314.55,95.45 314.69,95.45 314.84,95.45 314.98,95.45 315.12,95.45 315.27,95.45 315.41,95.45 315.55,95.45 315.70,95.45 315.84,95.45 315.98,95.45 316.13,95.45 316.27,95.45 316.41,95.45 316.56,95.45 316.70,95.45 316.84,95.45 316.99,95.45 317.13,95.45 317.27,95.45 317.42,95.45 317.56,95.45 317.70,95.45 317.85,95.45 317.99,95.45 318.13,95.45 318.28,95.45 318.42,95.45 318.56,95.45 318.71,95.45 318.85,95.45 318.99,95.45 319.14,95.45 319.28,95.45 319.42,95.45 319.57,95.45 319.71,95.45 319.85,95.45 320.00,95.45 320.14,95.45 320.28,95.45 320.43,95.45 320.57,95.45 320.71,95.45 320.86,95.45 321.00,95.45 321.14,95.45 321.29,95.45 321.43,95.45 321.57,95.45 321.72,95.45 321.86,95.45 322.00,95.45 322.15,95.45 322.29,95.45 322.43,95.45 322.58,95.45 322.72,95.45 322.86,95.45 323.01,95.45 323.15,95.45 323.29,95.45 323.43,95.45 323.58,95.45 323.72,95.45 323.86,95.45 324.01,95.45 324.15,95.45 324.29,95.45 324.44,95.45 324.58,95.45 324.72,95.45 324.87,95.45 325.01,95.45 325.15,95.45 325.30,95.45 325.44,95.45 325.58,95.45 325.73,95.45 325.87,95.45 326.01,95.45 326.16,95.45 326.30,95.45 326.44,95.45 326.59,95.45 326.73,95.45 326.87,95.45 327.02,95.45 327.16,95.45 327.30,95.45 327.45,95.45 327.59,95.45 327.73,95.45 327.88,95.45 328.02,95.45 328.16,95.45 328.31,95.45 328.45,95.45 328.59,95.45 328.74,95.45 328.88,95.45 329.02,95.45 329.17,95.45 329.31,95.45 329.45,95.45 329.60,95.45 329.74,95.45 329.88,95.45 330.03,95.45 330.17,95.45 330.31,95.45 330.46,95.45 330.60,95.45 330.74,95.45 330.89,95.45 331.03,95.45 331.17,95.45 331.32,95.45 331.46,95.45 331.60,95.45 331.75,95.45 331.89,95.45 332.03,95.45 332.18,95.45 332.32,95.45 332.46,95.45 332.61,95.45 332.75,95.45 332.89,95.45 333.04,95.45 333.18,95.45 333.32,95.45 333.47,95.45 333.61,95.45 333.75,95.45 333.90,95.45 334.04,95.45 334.18,95.45 334.33,95.45 334.47,95.45 334.61,95.45 334.76,95.45 334.90,95.45 335.04,95.45 335.19,95.45 335.33,95.45 335.47,95.45 335.62,95.45 335.76,95.45 335.90,95.45 336.05,95.45 336.19,95.45 336.33,95.45 336.48,95.45 336.62,95.45 336.76,95.45 336.91,95.45 337.05,95.45 337.19,95.45 337.34,95.45 337.48,95.45 337.62,95.45 337.77,95.45 337.91,95.45 338.05,95.45 338.20,95.45 338.34,95.45 338.48,95.45 338.63,95.45 338.77,95.45 338.91,95.45 339.06,95.45 339.20,95.45 339.34,95.45 339.49,95.45 339.63,95.45 339.77,95.45 339.92,95.45 340.06,95.45 340.20,95.45 340.35,95.45 340.49,95.45 340.63,95.45 340.78,95.45 340.92,95.45 341.06,95.45 341.21,95.45 341.35,95.45 341.49,95.45 341.64,95.45 341.78,95.45 341.92,95.45 342.07,95.45 342.21,95.45 342.35,95.45 342.50,95.45 342.64,95.45 342.78,95.45 342.93,95.45 343.07,95.45 343.21,95.45 343.36,95.45 344.60,95.45" fill="none" stroke="#0000ff" stroke-width="1.5"/>
<path d="M57.0,274.90000000000003V457.0" stroke="#a4a4a4" stroke-width="1.8" fill="none"/>
<path d="M343.5,274.90000000000003V457.0" stroke="#a4a4a4" stroke-width="1.4" fill="none"/>
<path d="M56.1,275.6H344.2" stroke="#a4a4a4" stroke-width="1.5" fill="none"/>
<path d="M56.1,456.3H344.2" stroke="#a4a4a4" stroke-width="1.5" fill="none"/>
<path d="M57.0,275.60H61.0" stroke="#a4a4a4" stroke-width="1.3"/>
<text x="44.8" y="280.70" text-anchor="end">1</text>
<path d="M57.0,298.19H61.0" stroke="#a4a4a4" stroke-width="1.3"/>
<text x="44.8" y="303.29" text-anchor="end">0.75</text>
<path d="M57.0,320.78H61.0" stroke="#a4a4a4" stroke-width="1.3"/>
<text x="44.8" y="325.88" text-anchor="end">0.5</text>
<path d="M57.0,343.36H61.0" stroke="#a4a4a4" stroke-width="1.3"/>
<text x="44.8" y="348.46" text-anchor="end">0.25</text>
<path d="M57.0,365.95H61.0" stroke="#a4a4a4" stroke-width="1.3"/>
<text x="44.8" y="371.05" text-anchor="end">0</text>
<path d="M57.0,388.54H61.0" stroke="#a4a4a4" stroke-width="1.3"/>
<text x="44.8" y="393.64" text-anchor="end">-0.25</text>
<path d="M57.0,411.12H61.0" stroke="#a4a4a4" stroke-width="1.3"/>
<text x="44.8" y="416.23" text-anchor="end">-0.5</text>
<path d="M57.0,433.71H61.0" stroke="#a4a4a4" stroke-width="1.3"/>
<text x="44.8" y="438.81" text-anchor="end">-0.75</text>
<path d="M57.0,456.30H61.0" stroke="#a4a4a4" stroke-width="1.3"/>
<text x="44.8" y="461.40" text-anchor="end">-1</text>
<text x="57.00" y="477.90" text-anchor="middle">0</text>
<path d="M128.62,456.3V452.3" stroke="#a4a4a4" stroke-width="1.3"/>
<text x="128.62" y="477.90" text-anchor="middle">10</text>
<path d="M200.25,456.3V452.3" stroke="#a4a4a4" stroke-width="1.3"/>
<text x="200.25" y="477.90" text-anchor="middle">20</text>
<path d="M271.88,456.3V452.3" stroke="#a4a4a4" stroke-width="1.3"/>
<text x="271.88" y="477.90" text-anchor="middle">30</text>
<text x="343.50" y="477.90" text-anchor="middle">40</text>
<polyline points="57.00,366.60 57.10,366.43 57.19,366.27 57.29,366.10 57.38,365.93 57.48,365.77 57.57,365.60 57.67,365.44 57.76,365.29 57.86,365.13 57.96,364.99 58.05,364.86 58.15,364.73 58.24,364.61 58.34,364.51 58.43,364.41 58.53,364.33 58.62,364.27 58.72,364.21 58.82,364.17 58.91,364.15 59.01,364.14 59.10,364.15 59.20,364.17 59.29,364.21 59.39,364.26 59.48,364.33 59.58,364.42 59.67,364.52 59.77,364.63 59.87,364.76 59.96,364.90 60.06,365.05 60.15,365.21 60.25,365.38 60.34,365.56 60.44,365.75 60.53,365.95 60.63,366.15 60.73,366.35 60.82,366.56 60.92,366.77 61.01,366.97 61.11,367.18 61.20,367.38 61.30,367.58 61.39,367.76 61.49,367.95 61.59,368.12 61.68,368.28 61.78,368.43 61.87,368.57 61.97,368.69 62.06,368.80 62.16,368.89 62.25,368.97 62.35,369.02 62.45,369.06 62.54,369.08 62.64,369.08 62.73,369.06 62.83,369.03 62.92,368.97 63.02,368.89 63.11,368.80 63.21,368.68 63.31,368.55 63.40,368.40 63.50,368.24 63.59,368.06 63.69,367.86 63.78,367.65 63.88,367.43 63.97,367.20 64.07,366.97 64.16,366.72 64.26,366.47 64.36,366.22 64.45,365.96 64.55,365.70 64.64,365.45 64.74,365.20 64.83,364.95 64.93,364.71 65.02,364.48 65.12,364.26 65.22,364.05 65.31,363.86 65.41,363.68 65.50,363.52 65.60,363.38 65.69,363.26 65.79,363.15 65.88,363.07 65.98,363.01 66.08,362.98 66.17,362.96 66.27,362.98 66.36,363.01 66.46,363.07 66.55,363.15 66.65,363.26 66.74,363.39 66.84,363.54 66.94,363.72 67.03,363.91 67.13,364.13 67.22,364.36 67.32,364.61 67.41,364.87 67.51,365.15 67.60,365.44 67.70,365.74 67.80,366.05 67.89,366.36 67.99,366.68 68.08,367.00 68.18,367.31 68.27,367.63 68.37,367.93 68.46,368.24 68.56,368.53 68.65,368.80 68.75,369.07 68.85,369.32 68.94,369.55 69.04,369.76 69.13,369.94 69.23,370.11 69.32,370.25 69.42,370.36 69.51,370.45 69.61,370.51 69.71,370.54 69.80,370.54 69.90,370.51 69.99,370.45 70.09,370.36 70.18,370.24 70.28,370.09 70.37,369.92 70.47,369.72 70.57,369.49 70.66,369.23 70.76,368.96 70.85,368.66 70.95,368.34 71.04,368.00 71.14,367.65 71.23,367.29 71.33,366.91 71.43,366.52 71.52,366.13 71.62,365.74 71.71,365.35 71.81,364.96 71.90,364.57 72.00,364.20 72.09,363.83 72.19,363.48 72.29,363.14 72.38,362.82 72.48,362.53 72.57,362.26 72.67,362.01 72.76,361.79 72.86,361.60 72.95,361.45 73.05,361.32 73.14,361.23 73.24,361.18 73.34,361.16 73.43,361.18 73.53,361.24 73.62,361.33 73.72,361.46 73.81,361.62 73.91,361.82 74.00,362.06 74.10,362.32 74.20,362.62 74.29,362.95 74.39,363.31 74.48,363.69 74.58,364.10 74.67,364.53 74.77,364.97 74.86,365.43 74.96,365.90 75.06,366.38 75.15,366.87 75.25,367.35 75.34,367.84 75.44,368.32 75.53,368.79 75.63,369.25 75.72,369.69 75.82,370.12 75.92,370.52 76.01,370.90 76.11,371.26 76.20,371.58 76.30,371.86 76.39,372.11 76.49,372.33 76.58,372.50 76.68,372.63 76.78,372.72 76.87,372.77 76.97,372.77 77.06,372.72 77.16,372.63 77.25,372.49 77.35,372.31 77.44,372.08 77.54,371.81 77.63,371.50 77.73,371.15 77.83,370.76 77.92,370.33 78.02,369.87 78.11,369.38 78.21,368.87 78.30,368.33 78.40,367.77 78.49,367.19 78.59,366.60 78.69,366.01 78.78,365.40 78.88,364.80 78.97,364.20 79.07,363.61 79.16,363.04 79.26,362.48 79.35,361.94 79.45,361.42 79.55,360.94 79.64,360.49 79.74,360.07 79.83,359.70 79.93,359.36 80.02,359.08 80.12,358.84 80.21,358.65 80.31,358.51 80.41,358.43 80.50,358.40 80.60,358.43 80.69,358.52 80.79,358.66 80.88,358.86 80.98,359.12 81.07,359.42 81.17,359.78 81.27,360.20 81.36,360.66 81.46,361.16 81.55,361.71 81.65,362.30 81.74,362.92 81.84,363.57 81.93,364.25 82.03,364.96 82.12,365.68 82.22,366.42 82.32,367.16 82.41,367.90 82.51,368.65 82.60,369.38 82.70,370.10 82.79,370.81 82.89,371.49 82.98,372.14 83.08,372.76 83.18,373.34 83.27,373.87 83.37,374.36 83.46,374.80 83.56,375.18 83.65,375.51 83.75,375.77 83.84,375.97 83.94,376.10 84.04,376.17 84.13,376.17 84.23,376.10 84.32,375.95 84.42,375.74 84.51,375.46 84.61,375.11 84.70,374.70 84.80,374.22 84.90,373.68 84.99,373.08 85.09,372.43 85.18,371.72 85.28,370.97 85.37,370.18 85.47,369.36 85.56,368.50 85.66,367.62 85.76,366.71 85.85,365.80 85.95,364.88 86.04,363.96 86.14,363.04 86.23,362.14 86.33,361.26 86.42,360.40 86.52,359.58 86.61,358.80 86.71,358.06 86.81,357.37 86.90,356.73 87.00,356.16 87.09,355.65 87.19,355.21 87.28,354.85 87.38,354.57 87.47,354.36 87.57,354.24 87.67,354.20 87.76,354.25 87.86,354.38 87.95,354.60 88.05,354.91 88.14,355.30 88.24,355.77 88.33,356.33 88.43,356.96 88.53,357.66 88.62,358.44 88.72,359.28 88.81,360.18 88.91,361.13 89.00,362.13 89.10,363.17 89.19,364.25 89.29,365.35 89.39,366.48 89.48,367.61 89.58,368.75 89.67,369.89 89.77,371.01 89.86,372.11 89.96,373.19 90.05,374.22 90.15,375.22 90.25,376.16 90.34,377.04 90.44,377.86 90.53,378.61 90.63,379.27 90.72,379.85 90.82,380.35 90.91,380.75 91.01,381.05 91.10,381.25 91.20,381.35 91.30,381.34 91.39,381.23 91.49,381.01 91.58,380.68 91.68,380.25 91.77,379.71 91.87,379.07 91.96,378.34 92.06,377.51 92.16,376.60 92.25,375.60 92.35,374.52 92.44,373.38 92.54,372.17 92.63,370.90 92.73,369.60 92.82,368.25 92.92,366.87 93.02,365.48 93.11,364.07 93.21,362.67 93.30,361.27 93.40,359.90 93.49,358.55 93.59,357.25 93.68,356.00 93.78,354.80 93.88,353.67 93.97,352.63 94.07,351.66 94.16,350.79 94.26,350.02 94.35,349.36 94.45,348.81 94.54,348.38 94.64,348.07 94.74,347.89 94.83,347.84 94.93,347.91 95.02,348.12 95.12,348.46 95.21,348.93 95.31,349.53 95.40,350.26 95.50,351.11 95.59,352.07 95.69,353.15 95.79,354.33 95.88,355.61 95.98,356.99 96.07,358.44 96.17,359.97 96.26,361.56 96.36,363.20 96.45,364.88 96.55,366.59 96.65,368.31 96.74,370.05 96.84,371.77 96.93,373.48 97.03,375.16 97.12,376.79 97.22,378.36 97.31,379.87 97.41,381.30 97.51,382.64 97.60,383.88 97.70,385.01 97.79,386.01 97.89,386.89 97.98,387.64 98.08,388.24 98.17,388.69 98.27,388.99 98.37,389.13 98.46,389.12 98.56,388.94 98.65,388.60 98.75,388.09 98.84,387.43 98.94,386.61 99.03,385.64 99.13,384.52 99.23,383.26 99.32,381.86 99.42,380.34 99.51,378.71 99.61,376.96 99.70,375.13 99.80,373.21 99.89,371.22 99.99,369.17 100.08,367.09 100.18,364.97 100.28,362.84 100.37,360.71 100.47,358.60 100.56,356.52 100.66,354.49 100.75,352.52 100.85,350.62 100.94,348.82 101.04,347.12 101.14,345.54 101.23,344.09 101.33,342.78 101.42,341.62 101.52,340.63 101.61,339.80 101.71,339.16 101.80,338.70 101.90,338.44 102.00,338.37 102.09,338.49 102.19,338.82 102.28,339.34 102.38,340.06 102.47,340.98 102.57,342.08 102.66,343.37 102.76,344.84 102.86,346.47 102.95,348.26 103.05,350.20 103.14,352.28 103.24,354.48 103.33,356.78 103.43,359.18 103.52,361.66 103.62,364.19 103.72,366.77 103.81,369.38 103.91,371.99 104.00,374.58 104.10,377.15 104.19,379.67 104.29,382.12 104.38,384.48 104.48,386.75 104.57,388.89 104.67,390.89 104.77,392.75 104.86,394.43 104.96,395.94 105.05,397.25 105.15,398.35 105.24,399.24 105.34,399.91 105.43,400.34 105.53,400.54 105.63,400.50 105.72,400.22 105.82,399.69 105.91,398.92 106.01,397.92 106.10,396.67 106.20,395.20 106.29,393.51 106.39,391.61 106.49,389.52 106.58,387.23 106.68,384.77 106.77,382.16 106.87,379.40 106.96,376.53 107.06,373.55 107.15,370.49 107.25,367.37 107.35,364.21 107.44,361.03 107.54,357.86 107.63,354.71 107.73,351.62 107.82,348.59 107.92,345.66 108.01,342.85 108.11,340.17 108.21,337.66 108.30,335.32 108.40,333.17 108.49,331.24 108.59,329.54 108.68,328.08 108.78,326.88 108.87,325.94 108.97,325.28 109.06,324.91 109.16,324.82 109.26,325.03 109.35,325.54 109.45,326.33 109.54,327.42 109.64,328.80 109.73,330.46 109.83,332.39 109.92,334.58 110.02,337.01 110.12,339.68 110.21,342.56 110.31,345.64 110.40,348.90 110.50,352.32 110.59,355.87 110.69,359.52 110.78,363.27 110.88,367.07 110.98,370.90 111.07,374.74 111.17,378.56 111.26,382.33 111.36,386.02 111.45,389.61 111.55,393.07 111.64,396.38 111.74,399.50 111.84,402.42 111.93,405.12 112.03,407.56 112.12,409.74 112.22,411.63 112.31,413.21 112.41,414.48 112.50,415.42 112.60,416.03 112.70,416.28 112.79,416.19 112.89,415.74 112.98,414.94 113.08,413.78 113.17,412.28 113.27,410.44 113.36,408.27 113.46,405.78 113.55,402.99 113.65,399.91 113.75,396.57 113.84,392.98 113.94,389.17 114.03,385.16 114.13,380.98 114.22,376.66 114.32,372.23 114.41,367.71 114.51,363.15 114.61,358.56 114.70,353.99 114.80,349.46 114.89,345.01 114.99,340.68 115.08,336.48 115.18,332.46 115.27,328.65 115.37,325.06 115.47,321.74 115.56,318.70 115.66,315.98 115.75,313.58 115.85,311.54 115.94,309.87 116.04,308.59 116.13,307.70 116.23,307.22 116.33,307.15 116.42,307.51 116.52,308.28 116.61,309.47 116.71,311.07 116.80,313.08 116.90,315.49 116.99,318.27 117.09,321.42 117.19,324.91 117.28,328.73 117.38,332.84 117.47,337.23 117.57,341.85 117.66,346.69 117.76,351.71 117.85,356.87 117.95,362.15 118.04,367.49 118.14,372.87 118.24,378.25 118.33,383.59 118.43,388.84 118.52,393.99 118.62,398.97 118.71,403.76 118.81,408.33 118.90,412.64 119.00,416.65 119.10,420.33 119.19,423.67 119.29,426.62 119.38,429.17 119.48,431.29 119.57,432.97 119.67,434.19 119.76,434.94 119.86,435.21 119.96,435.00 120.05,434.29 120.15,433.10 120.24,431.43 120.34,429.29 120.43,426.69 120.53,423.64 120.62,420.16 120.72,416.28 120.82,412.02 120.91,407.40 121.01,402.46 121.10,397.23 121.20,391.75 121.29,386.05 121.39,380.17 121.48,374.15 121.58,368.04 121.68,361.87 121.77,355.70 121.87,349.56 121.96,343.49 122.06,337.55 122.15,331.78 122.25,326.21 122.34,320.89 122.44,315.86 122.53,311.15 122.63,306.81 122.73,302.86 122.82,299.33 122.92,296.26 123.01,293.66 123.11,291.56 123.20,289.98 123.30,288.93 123.39,288.41 123.49,288.45 123.59,289.04 123.68,290.18 123.78,291.86 123.87,294.09 123.97,296.83 124.06,300.08 124.16,303.82 124.25,308.02 124.35,312.65 124.45,317.69 124.54,323.10 124.64,328.84 124.73,334.88 124.83,341.18 124.92,347.68 125.02,354.34 125.11,361.13 125.21,367.99 125.31,374.86 125.40,381.71 125.50,388.49 125.59,395.14 125.69,401.62 125.78,407.87 125.88,413.87 125.97,419.55 126.07,424.88 126.17,429.83 126.26,434.34 126.36,438.40 126.45,441.96 126.55,445.01 126.64,447.51 126.74,449.44 126.83,450.80 126.93,451.57 127.02,451.73 127.12,451.30 127.22,450.26 127.31,448.63 127.41,446.41 127.50,443.61 127.60,440.26 127.69,436.38 127.79,431.99 127.88,427.12 127.98,421.80 128.08,416.08 128.17,409.98 128.27,403.56 128.36,396.86 128.46,389.92 128.55,382.80 128.65,375.54 128.74,368.19 128.84,360.81 128.94,353.45 129.03,346.16 129.13,339.00 129.22,332.01 129.32,325.24 129.41,318.75 129.51,312.58 129.60,306.78 129.70,301.38 129.80,296.44 129.89,291.97 129.99,288.02 130.08,284.62 130.18,281.79 130.27,279.54 130.37,277.91 130.46,276.90 130.56,276.52 130.66,276.77 130.75,277.65 130.85,279.17 130.94,281.29 131.04,284.03 131.13,287.34 131.23,291.22 131.32,295.63 131.42,300.54 131.51,305.93 131.61,311.74 131.71,317.95 131.80,324.50 131.90,331.35 131.99,338.45 132.09,345.76 132.18,353.21 132.28,360.76 132.37,368.35 132.47,375.93 132.57,383.44 132.66,390.84 132.76,398.06 132.85,405.06 132.95,411.78 133.04,418.19 133.14,424.23 133.23,429.86 133.33,435.04 133.43,439.74 133.52,443.91 133.62,447.54 133.71,450.59 133.81,453.05 133.90,454.90 134.00,456.11 134.09,456.70 134.19,456.65 134.29,455.96 134.38,454.64 134.48,452.70 134.57,450.15 134.67,447.02 134.76,443.32 134.86,439.09 134.95,434.34 135.05,429.13 135.15,423.48 135.24,417.43 135.34,411.04 135.43,404.34 135.53,397.39 135.62,390.23 135.72,382.91 135.81,375.49 135.91,368.03 136.00,360.56 136.10,353.16 136.20,345.86 136.29,338.72 136.39,331.80 136.48,325.13 136.58,318.77 136.67,312.76 136.77,307.14 136.86,301.96 136.96,297.24 137.06,293.02 137.15,289.33 137.25,286.20 137.34,283.63 137.44,281.66 137.53,280.29 137.63,279.53 137.72,279.38 137.82,279.85 137.92,280.92 138.01,282.59 138.11,284.84 138.20,287.67 138.30,291.03 138.39,294.91 138.49,299.28 138.58,304.11 138.68,309.36 138.78,314.99 138.87,320.95 138.97,327.22 139.06,333.73 139.16,340.45 139.25,347.32 139.35,354.30 139.44,361.34 139.54,368.37 139.64,375.37 139.73,382.27 139.83,389.03 139.92,395.60 140.02,401.93 140.11,407.98 140.21,413.71 140.30,419.08 140.40,424.06 140.49,428.61 140.59,432.69 140.69,436.29 140.78,439.38 140.88,441.94 140.97,443.96 141.07,445.41 141.16,446.31 141.26,446.64 141.35,446.40 141.45,445.60 141.55,444.25 141.64,442.36 141.74,439.94 141.83,437.02 141.93,433.62 142.02,429.76 142.12,425.48 142.21,420.81 142.31,415.78 142.41,410.44 142.50,404.81 142.60,398.95 142.69,392.90 142.79,386.69 142.88,380.38 142.98,374.01 143.07,367.62 143.17,361.27 143.27,354.99 143.36,348.82 143.46,342.83 143.55,337.03 143.65,331.48 143.74,326.21 143.84,321.25 143.93,316.65 144.03,312.42 144.13,308.60 144.22,305.21 144.32,302.28 144.41,299.81 144.51,297.83 144.60,296.35 144.70,295.36 144.79,294.89 144.89,294.91 144.98,295.44 145.08,296.47 145.18,297.97 145.27,299.95 145.37,302.38 145.46,305.24 145.56,308.51 145.65,312.16 145.75,316.17 145.84,320.50 145.94,325.12 146.04,330.00 146.13,335.09 146.23,340.37 146.32,345.79 146.42,351.31 146.51,356.89 146.61,362.50 146.70,368.10 146.80,373.63 146.90,379.08 146.99,384.39 147.09,389.54 147.18,394.48 147.28,399.18 147.37,403.62 147.47,407.76 147.56,411.57 147.66,415.04 147.76,418.14 147.85,420.85 147.95,423.15 148.04,425.04 148.14,426.50 148.23,427.52 148.33,428.11 148.42,428.26 148.52,427.97 148.62,427.25 148.71,426.11 148.81,424.56 148.90,422.62 149.00,420.30 149.09,417.61 149.19,414.59 149.28,411.26 149.38,407.64 149.47,403.76 149.57,399.65 149.67,395.34 149.76,390.87 149.86,386.27 149.95,381.56 150.05,376.79 150.14,371.99 150.24,367.18 150.33,362.42 150.43,357.73 150.53,353.14 150.62,348.68 150.72,344.38 150.81,340.28 150.91,336.40 151.00,332.76 151.10,329.39 151.19,326.31 151.29,323.54 151.39,321.10 151.48,319.00 151.58,317.24 151.67,315.85 151.77,314.83 151.86,314.17 151.96,313.89 152.05,313.98 152.15,314.44 152.25,315.25 152.34,316.42 152.44,317.93 152.53,319.76 152.63,321.90 152.72,324.34 152.82,327.04 152.91,330.00 153.01,333.18 153.11,336.57 153.20,340.13 153.30,343.85 153.39,347.68 153.49,351.61 153.58,355.61 153.68,359.64 153.77,363.68 153.87,367.71 153.96,371.68 154.06,375.58 154.16,379.37 154.25,383.04 154.35,386.55 154.44,389.89 154.54,393.03 154.63,395.95 154.73,398.64 154.82,401.07 154.92,403.24 155.02,405.12 155.11,406.72 155.21,408.02 155.30,409.01 155.40,409.69 155.49,410.06 155.59,410.12 155.68,409.87 155.78,409.32 155.88,408.48 155.97,407.34 156.07,405.94 156.16,404.26 156.26,402.34 156.35,400.18 156.45,397.81 156.54,395.25 156.64,392.50 156.74,389.60 156.83,386.57 156.93,383.42 157.02,380.19 157.12,376.89 157.21,373.55 157.31,370.20 157.40,366.85 157.50,363.53 157.60,360.27 157.69,357.08 157.79,353.99 157.88,351.02 157.98,348.19 158.07,345.51 158.17,343.01 158.26,340.69 158.36,338.58 158.45,336.69 158.55,335.02 158.65,333.59 158.74,332.41 158.84,331.48 158.93,330.80 159.03,330.37 159.12,330.21 159.22,330.30 159.31,330.64 159.41,331.23 159.51,332.05 159.60,333.11 159.70,334.40 159.79,335.89 159.89,337.58 159.98,339.45 160.08,341.50 160.17,343.70 160.27,346.03 160.37,348.48 160.46,351.03 160.56,353.66 160.65,356.35 160.75,359.09 160.84,361.84 160.94,364.60 161.03,367.34 161.13,370.05 161.23,372.70 161.32,375.28 161.42,377.77 161.51,380.15 161.61,382.41 161.70,384.53 161.80,386.50 161.89,388.32 161.99,389.95 162.09,391.41 162.18,392.67 162.28,393.74 162.37,394.60 162.47,395.25 162.56,395.70 162.66,395.93 162.75,395.95 162.85,395.77 162.94,395.38 163.04,394.79 163.14,394.01 163.23,393.05 163.33,391.90 163.42,390.59 163.52,389.13 163.61,387.52 163.71,385.78 163.80,383.92 163.90,381.96 164.00,379.91 164.09,377.78 164.19,375.60 164.28,373.38 164.38,371.13 164.47,368.88 164.57,366.63 164.66,364.40 164.76,362.21 164.86,360.08 164.95,358.01 165.05,356.02 165.14,354.12 165.24,352.34 165.33,350.67 165.43,349.12 165.52,347.72 165.62,346.46 165.72,345.36 165.81,344.41 165.91,343.63 166.00,343.01 166.10,342.57 166.19,342.30 166.29,342.20 166.38,342.27 166.48,342.51 166.58,342.91 166.67,343.47 166.77,344.19 166.86,345.05 166.96,346.06 167.05,347.19 167.15,348.45 167.24,349.82 167.34,351.29 167.43,352.85 167.53,354.49 167.63,356.19 167.72,357.95 167.82,359.74 167.91,361.56 168.01,363.40 168.10,365.23 168.20,367.06 168.29,368.85 168.39,370.61 168.49,372.33 168.58,373.98 168.68,375.55 168.77,377.05 168.87,378.46 168.96,379.76 169.06,380.96 169.15,382.04 169.25,383.00 169.35,383.83 169.44,384.53 169.54,385.09 169.63,385.52 169.73,385.81 169.82,385.96 169.92,385.97 170.01,385.84 170.11,385.57 170.21,385.18 170.30,384.66 170.40,384.01 170.49,383.25 170.59,382.37 170.68,381.40 170.78,380.33 170.87,379.17 170.97,377.94 171.07,376.64 171.16,375.28 171.26,373.87 171.35,372.43 171.45,370.96 171.54,369.47 171.64,367.98 171.73,366.50 171.83,365.03 171.92,363.58 172.02,362.17 172.12,360.81 172.21,359.50 172.31,358.25 172.40,357.07 172.50,355.97 172.59,354.96 172.69,354.04 172.78,353.21 172.88,352.49 172.98,351.87 173.07,351.35 173.17,350.95 173.26,350.67 173.36,350.49 173.45,350.43 173.55,350.48 173.64,350.64 173.74,350.91 173.84,351.29 173.93,351.76 174.03,352.34 174.12,353.00 174.22,353.76 174.31,354.59 174.41,355.49 174.50,356.46 174.60,357.49 174.70,358.57 174.79,359.69 174.89,360.85 174.98,362.03 175.08,363.23 175.17,364.44 175.27,365.64 175.36,366.84 175.46,368.03 175.56,369.18 175.65,370.31 175.75,371.39 175.84,372.43 175.94,373.41 176.03,374.33 176.13,375.19 176.22,375.97 176.32,376.68 176.41,377.30 176.51,377.85 176.61,378.30 176.70,378.67 176.80,378.95 176.89,379.13 176.99,379.23 177.08,379.23 177.18,379.14 177.27,378.97 177.37,378.70 177.47,378.36 177.56,377.93 177.66,377.43 177.75,376.85 177.85,376.21 177.94,375.51 178.04,374.74 178.13,373.93 178.23,373.08 178.33,372.19 178.42,371.26 178.52,370.31 178.61,369.35 178.71,368.37 178.80,367.40 178.90,366.42 178.99,365.46 179.09,364.51 179.19,363.59 179.28,362.69 179.38,361.84 179.47,361.02 179.57,360.25 179.66,359.53 179.76,358.87 179.85,358.26 179.95,357.73 180.05,357.25 180.14,356.85 180.24,356.52 180.33,356.26 180.43,356.07 180.52,355.96 180.62,355.92 180.71,355.96 180.81,356.06 180.90,356.24 181.00,356.49 181.10,356.81 181.19,357.18 181.29,357.62 181.38,358.11 181.48,358.66 181.57,359.25 181.67,359.89 181.76,360.57 181.86,361.27 181.96,362.01 182.05,362.77 182.15,363.54 182.24,364.33 182.34,365.12 182.43,365.91 182.53,366.69 182.62,367.47 182.72,368.22 182.82,368.96 182.91,369.67 183.01,370.34 183.10,370.98 183.20,371.59 183.29,372.15 183.39,372.66 183.48,373.12 183.58,373.53 183.68,373.88 183.77,374.18 183.87,374.42 183.96,374.60 184.06,374.72 184.15,374.78 184.25,374.78 184.34,374.72 184.44,374.60 184.54,374.43 184.63,374.20 184.73,373.92 184.82,373.59 184.92,373.21 185.01,372.79 185.11,372.33 185.20,371.83 185.30,371.30 185.39,370.74 185.49,370.15 185.59,369.55 185.68,368.93 185.78,368.30 185.87,367.66 185.97,367.02 186.06,366.38 186.16,365.75 186.25,365.13 186.35,364.53 186.45,363.95 186.54,363.39 186.64,362.85 186.73,362.35 186.83,361.88 186.92,361.45 187.02,361.06 187.11,360.70 187.21,360.40 187.31,360.13 187.40,359.92 187.50,359.75 187.59,359.63 187.69,359.56 187.78,359.53 187.88,359.56 187.97,359.63 188.07,359.75 188.17,359.91 188.26,360.12 188.36,360.37 188.45,360.65 188.55,360.98 188.64,361.34 188.74,361.72 188.83,362.14 188.93,362.58 189.03,363.05 189.12,363.53 189.22,364.02 189.31,364.53 189.41,365.04 189.50,365.56 189.60,366.07 189.69,366.59 189.79,367.09 189.88,367.59 189.98,368.07 190.08,368.53 190.17,368.97 190.27,369.39 190.36,369.78 190.46,370.14 190.55,370.48 190.65,370.78 190.74,371.04 190.84,371.27 190.94,371.47 191.03,371.62 191.13,371.74 191.22,371.81 191.32,371.85 191.41,371.85 191.51,371.81 191.60,371.73 191.70,371.62 191.80,371.47 191.89,371.29 191.99,371.07 192.08,370.82 192.18,370.55 192.27,370.24 192.37,369.92 192.46,369.57 192.56,369.20 192.66,368.82 192.75,368.43 192.85,368.02 192.94,367.61 193.04,367.19 193.13,366.78 193.23,366.36 193.32,365.95 193.42,365.55 193.52,365.15 193.61,364.77 193.71,364.41 193.80,364.06 193.90,363.73 193.99,363.43 194.09,363.14 194.18,362.89 194.28,362.66 194.37,362.46 194.47,362.29 194.57,362.15 194.66,362.04 194.76,361.96 194.85,361.92 194.95,361.90 195.04,361.92 195.14,361.97 195.23,362.04 195.33,362.15 195.43,362.29 195.52,362.45 195.62,362.64 195.71,362.85 195.81,363.08 195.90,363.34 196.00,363.61 196.09,363.90 196.19,364.20 196.29,364.52 196.38,364.84 196.48,365.17 196.57,365.50 196.67,365.84 196.76,366.18 196.86,366.51 196.95,366.84 197.05,367.16 197.15,367.48 197.24,367.78 197.34,368.07 197.43,368.34 197.53,368.59 197.62,368.83 197.72,369.05 197.81,369.24 197.91,369.42 198.01,369.57 198.10,369.69 198.20,369.79 198.29,369.87 198.39,369.92 198.48,369.94 198.58,369.94 198.67,369.91 198.77,369.86 198.86,369.79 198.96,369.69 199.06,369.57 199.15,369.43 199.25,369.26 199.34,369.08 199.44,368.89 199.53,368.67 199.63,368.45 199.72,368.21 199.82,367.96 199.92,367.70 200.01,367.43 200.11,367.17 200.20,366.89 200.30,366.62 200.39,366.35 200.49,366.08 200.58,365.82 200.68,365.56 200.78,365.31 200.87,365.08 200.97,364.85 201.06,364.64 201.16,364.44 201.25,364.25 201.35,364.09 201.44,363.94 201.54,363.81 201.64,363.70 201.73,363.61 201.83,363.54 201.92,363.49 202.02,363.46 202.11,363.45 202.21,363.46 202.30,363.49 202.40,363.54 202.49,363.61 202.59,363.70 202.69,363.81 202.78,363.93 202.88,364.07 202.97,364.22 203.07,364.39 203.16,364.57 203.26,364.76 203.35,364.95 203.45,365.16 203.55,365.37 203.64,365.59 203.74,365.80 203.83,366.02 203.93,366.24 204.02,366.46 204.12,366.68 204.21,366.89 204.31,367.09 204.41,367.29 204.50,367.47 204.60,367.65 204.69,367.82 204.79,367.97 204.88,368.11 204.98,368.24 205.07,368.35 205.17,368.45 205.27,368.53 205.36,368.60 205.46,368.65 205.55,368.68 205.65,368.69 205.74,368.69 205.84,368.67 205.93,368.64 206.03,368.59 206.13,368.53 206.22,368.45 206.32,368.35 206.41,368.25 206.51,368.13 206.60,368.00 206.70,367.86 206.79,367.71 206.89,367.56 206.98,367.39 207.08,367.23 207.18,367.05 207.27,366.88 207.37,366.70 207.46,366.52 207.56,366.35 207.65,366.17 207.75,366.00 207.84,365.83 207.94,365.67 208.04,365.51 208.13,365.37 208.23,365.23 208.32,365.10 208.42,364.98 208.51,364.87 208.61,364.77 208.70,364.69 208.80,364.62 208.90,364.56 208.99,364.51 209.09,364.48 209.18,364.46 209.28,364.46 209.37,364.46 209.47,364.49 209.56,364.52 209.66,364.57 209.76,364.62 209.85,364.69 209.95,364.77 210.04,364.86 210.14,364.96 210.23,365.07 210.33,365.19 210.42,365.31 210.52,365.44 210.62,365.58 210.71,365.71 210.81,365.85 210.90,366.00 211.00,366.14 211.09,366.28 211.19,366.43 211.28,366.57 211.38,366.70 211.47,366.84 211.57,366.96 211.67,367.09 211.76,367.20 211.86,367.31 211.95,367.41 212.05,367.50 212.14,367.59 212.24,367.66 212.33,367.72 212.43,367.77 212.53,367.82 212.62,367.85 212.72,367.87 212.81,367.88 212.91,367.88 213.00,367.87 213.10,367.84 213.19,367.81 213.29,367.77 213.39,367.72 213.48,367.66 213.58,367.59 213.67,367.51 213.77,367.42 213.86,367.33 213.96,367.24 214.05,367.13 214.15,367.03 214.25,366.92 214.34,366.81 214.44,366.69 214.53,366.58 214.63,366.46 214.72,366.34 214.82,366.23 214.91,366.12 215.01,366.01 215.11,365.90 215.20,365.80 215.30,365.71 215.39,365.62 215.49,365.53 215.58,365.45 215.68,365.38 215.77,365.32 215.87,365.27 215.96,365.22 216.06,365.18 216.16,365.15 216.25,365.13 216.35,365.12 216.44,365.11 216.54,365.12 216.63,365.13 216.73,365.16 216.82,365.19 216.92,365.23 217.02,365.27 217.11,365.32 217.21,365.38 217.30,365.45 217.40,365.52 217.49,365.60 217.59,365.68 217.68,365.76 217.78,365.85 217.88,365.94 217.97,366.03 218.07,366.12 218.16,366.22 218.26,366.31 218.35,366.40 218.45,366.49 218.54,366.58 218.64,366.67 218.74,366.75 218.83,366.83 218.93,366.91 219.02,366.98 219.12,367.04 219.21,367.10 219.31,367.16 219.40,367.20 219.50,367.25 219.60,367.28 219.69,367.31 219.79,367.33 219.88,367.34 219.98,367.35 220.07,367.35 220.17,367.34 220.26,367.32 220.36,367.30 220.45,367.27 220.55,367.24 220.65,367.20 220.74,367.16 220.84,367.10 220.93,367.05 221.03,366.99 221.12,366.93 221.22,366.86 221.31,366.79 221.41,366.72 221.51,366.65 221.60,366.57 221.70,366.50 221.79,366.42 221.89,366.34 221.98,366.27 222.08,366.20 222.17,366.13 222.27,366.06 222.37,365.99 222.46,365.93 222.56,365.87 222.65,365.82 222.75,365.76 222.84,365.72 222.94,365.68 223.03,365.64 223.13,365.61 223.23,365.59 223.32,365.57 223.42,365.55 223.51,365.55 223.61,365.54 223.70,365.55 223.80,365.56 223.89,365.57 223.99,365.59 224.09,365.62 224.18,365.65 224.28,365.68 224.37,365.72 224.47,365.76 224.56,365.81 224.66,365.86 224.75,365.91 224.85,365.97 224.94,366.02 225.04,366.08 225.14,366.14 225.23,366.20 225.33,366.26 225.42,366.33 225.52,366.39 225.61,366.44 225.71,366.50 225.80,366.56 225.90,366.61 226.00,366.67 226.09,366.71 226.19,366.76 226.28,366.80 226.38,366.84 226.47,366.88 226.57,366.91 226.66,366.93 226.76,366.96 226.86,366.97 226.95,366.99 227.05,367.00 227.14,367.00 227.24,367.00 227.33,366.99 227.43,366.98 227.52,366.97 227.62,366.95 227.72,366.93 227.81,366.90 227.91,366.87 228.00,366.84 228.10,366.81 228.19,366.77 228.29,366.73 228.38,366.68 228.48,366.64 228.58,366.59 228.67,366.54 228.77,366.49 228.86,366.44 228.96,366.39 229.05,366.35 229.15,366.30 229.24,366.25 229.34,366.20 229.43,366.16 229.53,366.12 229.63,366.07 229.72,366.04 229.82,366.00 229.91,365.97 230.01,365.94 230.10,365.91 230.20,365.89 230.29,365.87 230.39,365.85 230.49,365.84 230.58,365.83 230.68,365.83 230.77,365.82 230.87,365.83 230.96,365.83 231.06,365.84 231.15,365.86 231.25,365.87 231.35,365.89 231.44,365.91 231.54,365.94 231.63,365.97 231.73,366.00 231.82,366.03 231.92,366.06 232.01,366.10 232.11,366.14 232.21,366.18 232.30,366.22 232.40,366.26 232.49,366.29 232.59,366.33 232.68,366.37 232.78,366.41 232.87,366.45 232.97,366.49 233.07,366.52 233.16,366.56 233.26,366.59 233.35,366.62 233.45,366.65 233.54,366.67 233.64,366.69 233.73,366.71 233.83,366.73 233.92,366.75 234.02,366.76 234.12,366.77 234.21,366.77 234.31,366.77 234.40,366.77 234.50,366.77 234.59,366.76 234.69,366.75 234.78,366.74 234.88,366.73 234.98,366.71 235.07,366.69 235.17,366.67 235.26,366.65 235.36,366.62 235.45,366.59 235.55,366.57 235.64,366.54 235.74,366.51 235.84,366.47 235.93,366.44 236.03,366.41 236.12,366.38 236.22,366.35 236.31,366.31 236.41,366.28 236.50,366.25 236.60,366.22 236.70,366.20 236.79,366.17 236.89,366.14 236.98,366.12 237.08,366.10 237.17,366.08 237.27,366.06 237.36,366.05 237.46,366.04 237.56,366.02 237.65,366.02 237.75,366.01 237.84,366.01 237.94,366.01 238.03,366.01 238.13,366.01 238.22,366.02 238.32,366.03 238.41,366.04 238.51,366.05 238.61,366.07 238.70,366.08 238.80,366.10 238.89,366.12 238.99,366.14 239.08,366.16 239.18,366.19 239.27,366.21 239.37,366.24 239.47,366.26 239.56,366.29 239.66,366.31 239.75,366.34 239.85,366.37 239.94,366.39 240.04,366.42 240.13,366.44 240.23,366.46 240.33,366.49 240.42,366.51 240.52,366.53 240.61,366.54 240.71,366.56 240.80,366.58 240.90,366.59 240.99,366.60 241.09,366.61 241.19,366.62 241.28,366.62 241.38,366.63 241.47,366.63 241.57,366.63 241.66,366.62 241.76,366.62 241.85,366.61 241.95,366.61 242.05,366.60 242.14,366.59 242.24,366.57 242.33,366.56 242.43,366.54 242.52,366.53 242.62,366.51 242.71,366.49 242.81,366.47 242.90,366.45 243.00,366.43 243.10,366.41 243.19,366.39 243.29,366.37 243.38,366.35 243.48,366.33 243.57,366.31 243.67,366.29 243.76,366.27 243.86,366.25 243.96,366.23 244.05,366.22 244.15,366.20 244.24,366.19 244.34,366.17 244.43,366.16 244.53,366.15 244.62,366.14 244.72,366.14 244.82,366.13 244.91,366.13 245.01,366.13 245.10,366.13 245.20,366.13 245.29,366.13 245.39,366.13 245.48,366.14 245.58,366.15 245.68,366.16 245.77,366.17 245.87,366.18 245.96,366.19 246.06,366.20 246.15,366.21 246.25,366.23 246.34,366.24 246.44,366.26 246.54,366.28 246.63,366.29 246.73,366.31 246.82,366.33 246.92,366.34 247.01,366.36 247.11,366.38 247.20,366.39 247.30,366.41 247.39,366.42 247.49,366.44 247.59,366.45 247.68,366.46 247.78,366.48 247.87,366.49 247.97,366.50 248.06,366.51 248.16,366.51 248.25,366.52 248.35,366.52 248.45,366.53 248.54,366.53 248.64,366.53 248.73,366.53 248.83,366.53 248.92,366.53 249.02,366.52 249.11,366.52 249.21,366.51 249.31,366.50 249.40,366.49 249.50,366.49 249.59,366.48 249.69,366.46 249.78,366.45 249.88,366.44 249.97,366.43 250.07,366.42 250.17,366.40 250.26,366.39 250.36,366.37 250.45,366.36 250.55,366.35 250.64,366.33 250.74,366.32 250.83,366.31 250.93,366.30 251.03,366.28 251.12,366.27 251.22,366.26 251.31,366.25 251.41,366.24 251.50,366.23 251.60,366.23 251.69,366.22 251.79,366.22 251.88,366.21 251.98,366.21 252.08,366.21 252.17,366.20 252.27,366.20 252.36,366.20 252.46,366.21 252.55,366.21 252.65,366.21 252.74,366.22 252.84,366.22 252.94,366.23 253.03,366.24 253.13,366.24 253.22,366.25 253.32,366.26 253.41,366.27 253.51,366.28 253.60,366.29 253.70,366.30 253.80,366.31 253.89,366.32 253.99,366.34 254.08,366.35 254.18,366.36 254.27,366.37 254.37,366.38 254.46,366.39 254.56,366.40 254.66,366.41 254.75,366.42 254.85,366.43 254.94,366.43 255.04,366.44 255.13,366.45 255.23,366.45 255.32,366.46 255.42,366.46 255.52,366.46 255.61,366.47 255.71,366.47 255.80,366.47 255.90,366.47 255.99,366.47 256.09,366.46 256.18,366.46 256.28,366.46 256.37,366.45 256.47,366.45 256.57,366.44 256.66,366.44 256.76,366.43 256.85,366.42 256.95,366.42 257.04,366.41 257.14,366.40 257.23,366.39 257.33,366.38 257.43,366.37 257.52,366.37 257.62,366.36 257.71,366.35 257.81,366.34 257.90,366.33 258.00,366.32 258.09,366.31 258.19,366.31 258.29,366.30 258.38,366.29 258.48,366.29 258.57,366.28 258.67,366.27 258.76,366.27 258.86,366.27 258.95,366.26 259.05,366.26 259.15,366.26 259.24,366.26 259.34,366.26 259.43,366.25 259.53,366.26 259.62,366.26 259.72,366.26 259.81,366.26 259.91,366.26 260.01,366.27 260.10,366.27 260.20,366.28 260.29,366.28 260.39,366.29 260.48,366.29 260.58,366.30 260.67,366.31 260.77,366.31 260.86,366.32 260.96,366.33 261.06,366.33 261.15,366.34 261.25,366.35 261.34,366.36 261.44,366.36 261.53,366.37 261.63,366.38 261.72,366.38 261.82,366.39 261.92,366.39 262.01,366.40 262.11,366.40 262.20,366.41 262.30,366.41 262.39,366.42 262.49,366.42 262.58,366.42 262.68,366.42 262.78,366.43 262.87,366.43 262.97,366.43 263.06,366.43 263.16,366.43 263.25,366.42 263.35,366.42 263.44,366.42 263.54,366.42 263.64,366.41 263.73,366.41 263.83,366.41 263.92,366.40 264.02,366.40 264.11,366.39 264.21,366.39 264.30,366.38 264.40,366.38 264.50,366.37 264.59,366.37 264.69,366.36 264.78,366.35 264.88,366.35 264.97,366.34 265.07,366.34 265.16,366.33 265.26,366.33 265.35,366.32 265.45,366.32 265.55,366.31 265.64,366.31 265.74,366.30 265.83,366.30 265.93,366.30 266.02,366.30 266.12,366.29 266.21,366.29 266.31,366.29 266.41,366.29 266.50,366.29 266.60,366.29 266.69,366.29 266.79,366.29 266.88,366.29 266.98,366.29 267.07,366.29 267.17,366.30 267.27,366.30 267.36,366.30 267.46,366.31 267.55,366.31 267.65,366.31 267.74,366.32 267.84,366.32 267.93,366.33 268.03,366.33 268.13,366.33 268.22,366.34 268.32,366.34 268.41,366.35 268.51,366.35 268.60,366.36 268.70,366.36 268.79,366.37 268.89,366.37 268.99,366.37 269.08,366.38 269.18,366.38 269.27,366.39 269.37,366.39 269.46,366.39 269.56,366.39 269.65,366.40 269.75,366.40 269.84,366.40 269.94,366.40 270.04,366.40 270.13,366.40 270.23,366.40 270.32,366.40 270.42,366.40 270.51,366.40 270.61,366.40 270.70,366.39 270.80,366.39 270.90,366.39 270.99,366.39 271.09,366.38 271.18,366.38 271.28,366.38 271.37,366.38 271.47,366.37 271.56,366.37 271.66,366.36 271.76,366.36 271.85,366.36 271.95,366.35 272.04,366.35 272.14,366.35 272.23,366.34 272.33,366.34 272.42,366.33 272.52,366.33 272.62,366.33 272.71,366.33 272.81,366.32 272.90,366.32 273.00,366.32 273.09,366.32 273.19,366.31 273.28,366.31 273.38,366.31 273.48,366.31 273.57,366.31 273.67,366.31 273.76,366.31 273.86,366.31 273.95,366.31 274.05,366.31 274.14,366.31 274.24,366.31 274.33,366.31 274.43,366.32 274.53,366.32 274.62,366.32 274.72,366.32 274.81,366.33 274.91,366.33 275.00,366.33 275.10,366.33 275.19,366.34 275.29,366.34 275.39,366.34 275.48,366.35 275.58,366.35 275.67,366.35 275.77,366.36 275.86,366.36 275.96,366.36 276.05,366.36 276.15,366.37 276.25,366.37 276.34,366.37 276.44,366.37 276.53,366.38 276.63,366.38 276.72,366.38 276.82,366.38 276.91,366.38 277.01,366.38 277.11,366.38 277.20,366.38 277.30,366.38 277.39,366.38 277.49,366.38 277.58,366.38 277.68,366.38 277.77,366.38 277.87,366.38 277.97,366.38 278.06,366.38 278.16,366.37 278.25,366.37 278.35,366.37 278.44,366.37 278.54,366.37 278.63,366.36 278.73,366.36 278.82,366.36 278.92,366.36 279.02,366.35 279.11,366.35 279.21,366.35 279.30,366.35 279.40,366.34 279.49,366.34 279.59,366.34 279.68,366.34 279.78,366.34 279.88,366.33 279.97,366.33 280.07,366.33 280.16,366.33 280.26,366.33 280.35,366.33 280.45,366.33 280.54,366.32 280.64,366.32 280.74,366.32 280.83,366.32 280.93,366.32 281.02,366.32 281.12,366.32 281.21,366.32 281.31,366.33 281.40,366.33 281.50,366.33 281.60,366.33 281.69,366.33 281.79,366.33 281.88,366.33 281.98,366.33 282.07,366.34 282.17,366.34 282.26,366.34 282.36,366.34 282.46,366.34 282.55,366.35 282.65,366.35 282.74,366.35 282.84,366.35 282.93,366.35 283.03,366.36 283.12,366.36 283.22,366.36 283.31,366.36 283.41,366.36 283.51,366.36 283.60,366.37 283.70,366.37 283.79,366.37 283.89,366.37 283.98,366.37 284.08,366.37 284.17,366.37 284.27,366.37 284.37,366.37 284.46,366.37 284.56,366.37 284.65,366.37 284.75,366.37 284.84,366.37 284.94,366.37 285.03,366.37 285.13,366.37 285.23,366.37 285.32,366.37 285.42,366.36 285.51,366.36 285.61,366.36 285.70,366.36 285.80,366.36 285.89,366.36 285.99,366.36 286.09,366.35 286.18,366.35 286.28,366.35 286.37,366.35 286.47,366.35 286.56,366.35 286.66,366.34 286.75,366.34 286.85,366.34 286.95,366.34 287.04,366.34 287.14,366.34 287.23,366.34 287.33,366.34 287.42,366.34 287.52,366.33 287.61,366.33 287.71,366.33 287.80,366.33 287.90,366.33 288.00,366.33 288.09,366.33 288.19,366.33 288.28,366.33 288.38,366.33 288.47,366.33 288.57,366.33 288.66,366.34 288.76,366.34 288.86,366.34 288.95,366.34 289.05,366.34 289.14,366.34 289.24,366.34 289.33,366.34 289.43,366.34 289.52,366.34 289.62,366.35 289.72,366.35 289.81,366.35 289.91,366.35 290.00,366.35 290.10,366.35 290.19,366.35 290.29,366.35 290.38,366.36 290.48,366.36 290.58,366.36 290.67,366.36 290.77,366.36 290.86,366.36 290.96,366.36 291.05,366.36 291.15,366.36 291.24,366.36 291.34,366.36 291.44,366.36 291.53,366.36 291.63,366.36 291.72,366.36 291.82,366.36 291.91,366.36 292.01,366.36 292.10,366.36 292.20,366.36 292.29,366.36 292.39,366.36 292.49,366.36 292.58,366.36 292.68,366.36 292.77,366.36 292.87,366.36 292.96,366.36 293.06,366.35 293.15,366.35 293.25,366.35 293.35,366.35 293.44,366.35 293.54,366.35 293.63,366.35 293.73,366.35 293.82,366.35 293.92,366.35 294.01,366.34 294.11,366.34 294.21,366.34 294.30,366.34 294.40,366.34 294.49,366.34 294.59,366.34 294.68,366.34 294.78,366.34 294.87,366.34 294.97,366.34 295.07,366.34 295.16,366.34 295.26,366.34 295.35,366.34 295.45,366.34 295.54,366.34 295.64,366.34 295.73,366.34 295.83,366.34 295.93,366.34 296.02,366.34 296.12,366.34 296.21,366.34 296.31,366.34 296.40,366.34 296.50,366.34 296.59,366.35 296.69,366.35 296.78,366.35 296.88,366.35 296.98,366.35 297.07,366.35 297.17,366.35 297.26,366.35 297.36,366.35 297.45,366.35 297.55,366.35 297.64,366.35 297.74,366.36 297.84,366.36 297.93,366.36 298.03,366.36 298.12,366.36 298.22,366.36 298.31,366.36 298.41,366.36 298.50,366.36 298.60,366.36 298.70,366.36 298.79,366.36 298.89,366.36 298.98,366.36 299.08,366.36 299.17,366.36 299.27,366.36 299.36,366.36 299.46,366.36 299.56,366.36 299.65,366.36 299.75,366.36 299.84,366.36 299.94,366.36 300.03,366.35 300.13,366.35 300.22,366.35 300.32,366.35 300.42,366.35 300.51,366.35 300.61,366.35 300.70,366.35 300.80,366.35 300.89,366.35 300.99,366.35 301.08,366.35 301.18,366.35 301.27,366.35 301.37,366.35 301.47,366.35 301.56,366.34 301.66,366.34 301.75,366.34 301.85,366.34 301.94,366.34 302.04,366.34 302.13,366.34 302.23,366.34 302.33,366.34 302.42,366.34 302.52,366.34 302.61,366.34 302.71,366.34 302.80,366.34 302.90,366.34 302.99,366.34 303.09,366.34 303.19,366.34 303.28,366.34 303.38,366.35 303.47,366.35 303.57,366.35 303.66,366.35 303.76,366.35 303.85,366.35 303.95,366.35 304.05,366.35 304.14,366.35 304.24,366.35 304.33,366.35 304.43,366.35 304.52,366.35 304.62,366.35 304.71,366.35 304.81,366.35 304.91,366.35 305.00,366.35 305.10,366.35 305.19,366.35 305.29,366.35 305.38,366.36 305.48,366.36 305.57,366.36 305.67,366.36 305.76,366.36 305.86,366.36 305.96,366.36 306.05,366.36 306.15,366.36 306.24,366.36 306.34,366.36 306.43,366.36 306.53,366.36 306.62,366.35 306.72,366.35 306.82,366.35 306.91,366.35 307.01,366.35 307.10,366.35 307.20,366.35 307.29,366.35 307.39,366.35 307.48,366.35 307.58,366.35 307.68,366.35 307.77,366.35 307.87,366.35 307.96,366.35 308.06,366.35 308.15,366.35 308.25,366.35 308.34,366.35 308.44,366.35 308.54,366.35 308.63,366.35 308.73,366.35 308.82,366.35 308.92,366.35 309.01,366.35 309.11,366.35 309.20,366.35 309.30,366.35 309.40,366.35 309.49,366.35 309.59,366.35 309.68,366.35 309.78,366.35 309.87,366.35 309.97,366.35 310.06,366.35 310.16,366.35 310.25,366.35 310.35,366.35 310.45,366.35 310.54,366.35 310.64,366.35 310.73,366.35 310.83,366.35 310.92,366.35 311.02,366.35 311.11,366.35 311.21,366.35 311.31,366.35 311.40,366.35 311.50,366.35 311.59,366.35 311.69,366.35 311.78,366.35 311.88,366.35 311.97,366.35 312.07,366.35 312.17,366.35 312.26,366.35 312.36,366.35 312.45,366.35 312.55,366.35 312.64,366.35 312.74,366.35 312.83,366.35 312.93,366.35 313.03,366.35 313.12,366.35 313.22,366.35 313.31,366.35 313.41,366.35 313.50,366.35 313.60,366.35 313.69,366.35 313.79,366.35 313.89,366.35 313.98,366.35 314.08,366.35 314.17,366.35 314.27,366.35 314.36,366.35 314.46,366.35 314.55,366.35 314.65,366.35 314.74,366.35 314.84,366.35 314.94,366.35 315.03,366.35 315.13,366.35 315.22,366.35 315.32,366.35 315.41,366.35 315.51,366.35 315.60,366.35 315.70,366.35 315.80,366.35 315.89,366.35 315.99,366.35 316.08,366.35 316.18,366.35 316.27,366.35 316.37,366.35 316.46,366.35 316.56,366.35 316.66,366.35 316.75,366.35 316.85,366.35 316.94,366.35 317.04,366.35 317.13,366.35 317.23,366.35 317.32,366.35 317.42,366.35 317.52,366.35 317.61,366.35 317.71,366.35 317.80,366.35 317.90,366.35 317.99,366.35 318.09,366.35 318.18,366.35 318.28,366.35 318.38,366.35 318.47,366.35 318.57,366.35 318.66,366.35 318.76,366.35 318.85,366.35 318.95,366.35 319.04,366.35 319.14,366.35 319.23,366.35 319.33,366.35 319.43,366.35 319.52,366.35 319.62,366.35 319.71,366.35 319.81,366.35 319.90,366.35 320.00,366.35 320.09,366.35 320.19,366.35 320.29,366.35 320.38,366.35 320.48,366.35 320.57,366.35 320.67,366.35 320.76,366.35 320.86,366.35 320.95,366.35 321.05,366.35 321.15,366.35 321.24,366.35 321.34,366.35 321.43,366.35 321.53,366.35 321.62,366.35 321.72,366.35 321.81,366.35 321.91,366.35 322.01,366.35 322.10,366.35 322.20,366.35 322.29,366.35 322.39,366.35 322.48,366.35 322.58,366.35 322.67,366.35 322.77,366.35 322.87,366.35 322.96,366.35 323.06,366.35 323.15,366.35 323.25,366.35 323.34,366.35 323.44,366.35 323.53,366.35 323.63,366.35 323.72,366.35 323.82,366.35 323.92,366.35 324.01,366.35 324.11,366.35 324.20,366.35 324.30,366.35 324.39,366.35 324.49,366.35 324.58,366.35 324.68,366.35 324.78,366.35 324.87,366.35 324.97,366.35 325.06,366.35 325.16,366.35 325.25,366.35 325.35,366.35 325.44,366.35 325.54,366.35 325.64,366.35 325.73,366.35 325.83,366.35 325.92,366.35 326.02,366.35 326.11,366.35 326.21,366.35 326.30,366.35 326.40,366.35 326.50,366.35 326.59,366.35 326.69,366.35 326.78,366.35 326.88,366.35 326.97,366.35 327.07,366.35 327.16,366.35 327.26,366.35 327.36,366.35 327.45,366.35 327.55,366.35 327.64,366.35 327.74,366.35 327.83,366.35 327.93,366.35 328.02,366.35 328.12,366.35 328.21,366.35 328.31,366.35 328.41,366.35 328.50,366.35 328.60,366.35 328.69,366.35 328.79,366.35 328.88,366.35 328.98,366.35 329.07,366.35 329.17,366.35 329.27,366.35 329.36,366.35 329.46,366.35 329.55,366.35 329.65,366.35 329.74,366.35 329.84,366.35 329.93,366.35 330.03,366.35 330.13,366.35 330.22,366.35 330.32,366.35 330.41,366.35 330.51,366.35 330.60,366.35 330.70,366.35 330.79,366.35 330.89,366.35 330.99,366.35 331.08,366.35 331.18,366.35 331.27,366.35 331.37,366.35 331.46,366.35 331.56,366.35 331.65,366.35 331.75,366.35 331.85,366.35 331.94,366.35 332.04,366.35 332.13,366.35 332.23,366.35 332.32,366.35 332.42,366.35 332.51,366.35 332.61,366.35 332.70,366.35 332.80,366.35 332.90,366.35 332.99,366.35 333.09,366.35 333.18,366.35 333.28,366.35 333.37,366.35 333.47,366.35 333.56,366.35 333.66,366.35 333.76,366.35 333.85,366.35 333.95,366.35 334.04,366.35 334.14,366.35 334.23,366.35 334.33,366.35 334.42,366.35 334.52,366.35 334.62,366.35 334.71,366.35 334.81,366.35 334.90,366.35 335.00,366.35 335.09,366.35 335.19,366.35 335.28,366.35 335.38,366.35 335.48,366.35 335.57,366.35 335.67,366.35 335.76,366.35 335.86,366.35 335.95,366.35 336.05,366.35 336.14,366.35 336.24,366.35 336.34,366.35 336.43,366.35 336.53,366.35 336.62,366.35 336.72,366.35 336.81,366.35 336.91,366.35 337.00,366.35 337.10,366.35 337.19,366.35 337.29,366.35 337.39,366.35 337.48,366.35 337.58,366.35 337.67,366.35 337.77,366.35 337.86,366.35 337.96,366.35 338.05,366.35 338.15,366.35 338.25,366.35 338.34,366.35 338.44,366.35 338.53,366.35 338.63,366.35 338.72,366.35 338.82,366.35 338.91,366.35 339.01,366.35 339.11,366.35 339.20,366.35 339.30,366.35 339.39,366.35 339.49,366.35 339.58,366.35 339.68,366.35 339.77,366.35 339.87,366.35 339.97,366.35 340.06,366.35 340.16,366.35 340.25,366.35 340.35,366.35 340.44,366.35 340.54,366.35 340.63,366.35 340.73,366.35 340.83,366.35 340.92,366.35 341.02,366.35 341.11,366.35 341.21,366.35 341.30,366.35 341.40,366.35 341.49,366.35 341.59,366.35 341.68,366.35 341.78,366.35 341.88,366.35 341.97,366.35 342.07,366.35 342.16,366.35 342.26,366.35 342.35,366.35 342.45,366.35 342.54,366.35 342.64,366.35 342.74,366.35 342.83,366.35 342.93,366.35 343.02,366.35 343.12,366.35 343.21,366.35 343.31,366.35 343.40,366.35 344.30,366.35" fill="none" stroke="#ffa8c8" stroke-width="1.2"/>
<polyline points="57.00,366.60 57.10,366.43 57.19,366.27 57.29,366.10 57.38,365.93 57.48,365.77 57.57,365.60 57.67,365.44 57.76,365.29 57.86,365.13 57.96,364.99 58.05,364.86 58.15,364.73 58.24,364.61 58.34,364.51 58.43,364.41 58.53,364.33 58.62,364.27 58.72,364.21 58.82,364.17 58.91,364.15 59.01,364.14 59.10,364.15 59.20,364.17 59.29,364.21 59.39,364.26 59.48,364.33 59.58,364.42 59.67,364.52 59.77,364.63 59.87,364.76 59.96,364.90 60.06,365.05 60.15,365.21 60.25,365.38 60.34,365.56 60.44,365.75 60.53,365.95 60.63,366.15 60.73,366.35 60.82,366.56 60.92,366.77 61.01,366.97 61.11,367.18 61.20,367.38 61.30,367.58 61.39,367.76 61.49,367.95 61.59,368.12 61.68,368.28 61.78,368.43 61.87,368.57 61.97,368.69 62.06,368.80 62.16,368.89 62.25,368.97 62.35,369.02 62.45,369.06 62.54,369.08 62.64,369.08 62.73,369.06 62.83,369.03 62.92,368.97 63.02,368.89 63.11,368.80 63.21,368.68 63.31,368.55 63.40,368.40 63.50,368.24 63.59,368.06 63.69,367.86 63.78,367.65 63.88,367.43 63.97,367.20 64.07,366.97 64.16,366.72 64.26,366.47 64.36,366.22 64.45,365.96 64.55,365.70 64.64,365.45 64.74,365.20 64.83,364.95 64.93,364.71 65.02,364.48 65.12,364.26 65.22,364.05 65.31,363.86 65.41,363.68 65.50,363.52 65.60,363.38 65.69,363.26 65.79,363.15 65.88,363.07 65.98,363.01 66.08,362.98 66.17,362.96 66.27,362.98 66.36,363.01 66.46,363.07 66.55,363.15 66.65,363.26 66.74,363.39 66.84,363.54 66.94,363.72 67.03,363.91 67.13,364.13 67.22,364.36 67.32,364.61 67.41,364.87 67.51,365.15 67.60,365.44 67.70,365.74 67.80,366.05 67.89,366.36 67.99,366.68 68.08,367.00 68.18,367.31 68.27,367.63 68.37,367.93 68.46,368.24 68.56,368.53 68.65,368.80 68.75,369.07 68.85,369.32 68.94,369.55 69.04,369.76 69.13,369.94 69.23,370.11 69.32,370.25 69.42,370.36 69.51,370.45 69.61,370.51 69.71,370.54 69.80,370.54 69.90,370.51 69.99,370.45 70.09,370.36 70.18,370.24 70.28,370.09 70.37,369.92 70.47,369.72 70.57,369.49 70.66,369.23 70.76,368.96 70.85,368.66 70.95,368.34 71.04,368.00 71.14,367.65 71.23,367.29 71.33,366.91 71.43,366.52 71.52,366.13 71.62,365.74 71.71,365.35 71.81,364.96 71.90,364.57 72.00,364.20 72.09,363.83 72.19,363.48 72.29,363.14 72.38,362.82 72.48,362.53 72.57,362.26 72.67,362.01 72.76,361.79 72.86,361.60 72.95,361.45 73.05,361.32 73.14,361.23 73.24,361.18 73.34,361.16 73.43,361.18 73.53,361.24 73.62,361.33 73.72,361.46 73.81,361.62 73.91,361.82 74.00,362.06 74.10,362.32 74.20,362.62 74.29,362.95 74.39,363.31 74.48,363.69 74.58,364.10 74.67,364.53 74.77,364.97 74.86,365.43 74.96,365.90 75.06,366.38 75.15,366.87 75.25,367.35 75.34,367.84 75.44,368.32 75.53,368.79 75.63,369.25 75.72,369.69 75.82,370.12 75.92,370.52 76.01,370.90 76.11,371.26 76.20,371.58 76.30,371.86 76.39,372.11 76.49,372.33 76.58,372.50 76.68,372.63 76.78,372.72 76.87,372.77 76.97,372.77 77.06,372.72 77.16,372.63 77.25,372.49 77.35,372.31 77.44,372.08 77.54,371.81 77.63,371.50 77.73,371.15 77.83,370.76 77.92,370.33 78.02,369.87 78.11,369.38 78.21,368.87 78.30,368.33 78.40,367.77 78.49,367.19 78.59,366.60 78.69,366.01 78.78,365.40 78.88,364.80 78.97,364.20 79.07,363.61 79.16,363.04 79.26,362.48 79.35,361.94 79.45,361.42 79.55,360.94 79.64,360.49 79.74,360.07 79.83,359.70 79.93,359.36 80.02,359.08 80.12,358.84 80.21,358.65 80.31,358.51 80.41,358.43 80.50,358.40 80.60,358.43 80.69,358.52 80.79,358.66 80.88,358.86 80.98,359.12 81.07,359.42 81.17,359.78 81.27,360.20 81.36,360.66 81.46,361.16 81.55,361.71 81.65,362.30 81.74,362.92 81.84,363.57 81.93,364.25 82.03,364.96 82.12,365.68 82.22,366.42 82.32,367.16 82.41,367.90 82.51,368.65 82.60,369.38 82.70,370.10 82.79,370.81 82.89,371.49 82.98,372.14 83.08,372.76 83.18,373.34 83.27,373.87 83.37,374.36 83.46,374.80 83.56,375.18 83.65,375.51 83.75,375.77 83.84,375.97 83.94,376.10 84.04,376.17 84.13,376.17 84.23,376.10 84.32,375.95 84.42,375.74 84.51,375.46 84.61,375.11 84.70,374.70 84.80,374.22 84.90,373.68 84.99,373.08 85.09,372.43 85.18,371.72 85.28,370.97 85.37,370.18 85.47,369.36 85.56,368.50 85.66,367.62 85.76,366.71 85.85,365.80 85.95,364.88 86.04,363.96 86.14,363.04 86.23,362.14 86.33,361.26 86.42,360.40 86.52,359.58 86.61,358.80 86.71,358.06 86.81,357.37 86.90,356.73 87.00,356.16 87.09,355.65 87.19,355.21 87.28,354.85 87.38,354.57 87.47,354.36 87.57,354.24 87.67,354.20 87.76,354.25 87.86,354.38 87.95,354.60 88.05,354.91 88.14,355.30 88.24,355.77 88.33,356.33 88.43,356.96 88.53,357.66 88.62,358.44 88.72,359.28 88.81,360.18 88.91,361.13 89.00,362.13 89.10,363.17 89.19,364.25 89.29,365.35 89.39,366.48 89.48,367.61 89.58,368.75 89.67,369.89 89.77,371.01 89.86,372.11 89.96,373.19 90.05,374.22 90.15,375.22 90.25,376.16 90.34,377.04 90.44,377.86 90.53,378.61 90.63,379.27 90.72,379.85 90.82,380.35 90.91,380.75 91.01,381.05 91.10,381.25 91.20,381.35 91.30,381.34 91.39,381.23 91.49,381.01 91.58,380.68 91.68,380.25 91.77,379.71 91.87,379.07 91.96,378.34 92.06,377.51 92.16,376.60 92.25,375.60 92.35,374.52 92.44,373.38 92.54,372.17 92.63,370.90 92.73,369.60 92.82,368.25 92.92,366.87 93.02,365.48 93.11,364.07 93.21,362.67 93.30,361.27 93.40,359.90 93.49,358.55 93.59,357.25 93.68,356.00 93.78,354.80 93.88,353.67 93.97,352.63 94.07,351.66 94.16,350.79 94.26,350.02 94.35,349.36 94.45,348.81 94.54,348.38 94.64,348.07 94.74,347.89 94.83,347.84 94.93,347.91 95.02,348.12 95.12,348.46 95.21,348.93 95.31,349.53 95.40,350.26 95.50,351.11 95.59,352.07 95.69,353.15 95.79,354.33 95.88,355.61 95.98,356.99 96.07,358.44 96.17,359.97 96.26,361.56 96.36,363.20 96.45,364.88 96.55,366.59 96.65,368.31 96.74,370.05 96.84,371.77 96.93,373.48 97.03,375.16 97.12,376.79 97.22,378.36 97.31,379.87 97.41,381.30 97.51,382.64 97.60,383.88 97.70,385.01 97.79,386.01 97.89,386.89 97.98,387.64 98.08,388.24 98.17,388.69 98.27,388.99 98.37,389.13 98.46,389.12 98.56,388.94 98.65,388.60 98.75,388.09 98.84,387.43 98.94,386.61 99.03,385.64 99.13,384.52 99.23,383.26 99.32,381.86 99.42,380.34 99.51,378.71 99.61,376.96 99.70,375.13 99.80,373.21 99.89,371.22 99.99,369.17 100.08,367.09 100.18,364.97 100.28,362.84 100.37,360.71 100.47,358.60 100.56,356.52 100.66,354.49 100.75,352.52 100.85,350.62 100.94,348.82 101.04,347.12 101.14,345.54 101.23,344.09 101.33,342.78 101.42,341.62 101.52,340.63 101.61,339.80 101.71,339.16 101.80,338.70 101.90,338.44 102.00,338.37 102.09,338.49 102.19,338.82 102.28,339.34 102.38,340.06 102.47,340.98 102.57,342.08 102.66,343.37 102.76,344.84 102.86,346.47 102.95,348.26 103.05,350.20 103.14,352.28 103.24,354.48 103.33,356.78 103.43,359.18 103.52,361.66 103.62,364.19 103.72,366.77 103.81,369.38 103.91,371.99 104.00,374.58 104.10,377.15 104.19,379.67 104.29,382.12 104.38,384.48 104.48,386.75 104.57,388.89 104.67,390.89 104.77,392.75 104.86,394.43 104.96,395.94 105.05,397.25 105.15,398.35 105.24,399.24 105.34,399.91 105.43,400.34 105.53,400.54 105.63,400.50 105.72,400.22 105.82,399.69 105.91,398.92 106.01,397.92 106.10,396.67 106.20,395.20 106.29,393.51 106.39,391.61 106.49,389.52 106.58,387.23 106.68,384.77 106.77,382.16 106.87,379.40 106.96,376.53 107.06,373.55 107.15,370.49 107.25,367.37 107.35,364.21 107.44,361.03 107.54,357.86 107.63,354.71 107.73,351.62 107.82,348.59 107.92,345.66 108.01,342.85 108.11,340.17 108.21,337.66 108.30,335.32 108.40,333.17 108.49,331.24 108.59,329.54 108.68,328.08 108.78,326.88 108.87,325.94 108.97,325.28 109.06,324.91 109.16,324.82 109.26,325.03 109.35,325.54 109.45,326.33 109.54,327.42 109.64,328.80 109.73,330.46 109.83,332.39 109.92,334.58 110.02,337.01 110.12,339.68 110.21,342.56 110.31,345.64 110.40,348.90 110.50,352.32 110.59,355.87 110.69,359.52 110.78,363.27 110.88,367.07 110.98,370.90 111.07,374.74 111.17,378.56 111.26,382.33 111.36,386.02 111.45,389.61 111.55,393.07 111.64,396.38 111.74,399.50 111.84,402.42 111.93,405.12 112.03,407.56 112.12,409.74 112.22,411.63 112.31,413.21 112.41,414.48 112.50,415.42 112.60,416.03 112.70,416.28 112.79,416.19 112.89,415.74 112.98,414.94 113.08,413.78 113.17,412.28 113.27,410.44 113.36,408.27 113.46,405.78 113.55,402.99 113.65,399.91 113.75,396.57 113.84,392.98 113.94,389.17 114.03,385.16 114.13,380.98 114.22,376.66 114.32,372.23 114.41,367.71 114.51,363.15 114.61,358.56 114.70,353.99 114.80,349.46 114.89,345.01 114.99,340.68 115.08,336.48 115.18,332.46 115.27,328.65 115.37,325.06 115.47,321.74 115.56,318.70 115.66,315.98 115.75,313.58 115.85,311.54 115.94,309.87 116.04,308.59 116.13,307.70 116.23,307.22 116.33,307.15 116.42,307.51 116.52,308.28 116.61,309.47 116.71,311.07 116.80,313.08 116.90,315.49 116.99,318.27 117.09,321.42 117.19,324.91 117.28,328.73 117.38,332.84 117.47,337.23 117.57,341.85 117.66,346.69 117.76,351.71 117.85,356.87 117.95,362.15 118.04,367.49 118.14,372.87 118.24,378.25 118.33,383.59 118.43,388.84 118.52,393.99 118.62,398.97 118.71,403.76 118.81,408.33 118.90,412.64 119.00,416.65 119.10,420.33 119.19,423.67 119.29,426.62 119.38,429.17 119.48,431.29 119.57,432.97 119.67,434.19 119.76,434.94 119.86,435.21 119.96,435.00 120.05,434.29 120.15,433.10 120.24,431.43 120.34,429.29 120.43,426.69 120.53,423.64 120.62,420.16 120.72,416.28 120.82,412.02 120.91,407.40 121.01,402.46 121.10,397.23 121.20,391.75 121.29,386.05 121.39,380.17 121.48,374.15 121.58,368.04 121.68,361.87 121.77,355.70 121.87,349.56 121.96,343.49 122.06,337.55 122.15,331.78 122.25,326.21 122.34,320.89 122.44,315.86 122.53,311.15 122.63,306.81 122.73,302.86 122.82,299.33 122.92,296.26 123.01,293.66 123.11,291.56 123.20,289.98 123.30,288.93 123.39,288.41 123.49,288.45 123.59,289.04 123.68,290.18 123.78,291.86 123.87,294.09 123.97,296.83 124.06,300.08 124.16,303.82 124.25,308.02 124.35,312.65 124.45,317.69 124.54,323.10 124.64,328.84 124.73,334.88 124.83,341.18 124.92,347.68 125.02,354.34 125.11,361.13 125.21,367.99 125.31,374.86 125.40,381.71 125.50,388.49 125.59,395.14 125.69,401.62 125.78,407.87 125.88,413.87 125.97,419.55 126.07,424.88 126.17,429.83 126.26,434.34 126.36,438.40 126.45,441.96 126.55,445.01 126.64,447.51 126.74,449.44 126.83,450.80 126.93,451.57 127.02,451.73 127.12,451.30 127.22,450.26 127.31,448.63 127.41,446.41 127.50,443.61 127.60,440.26 127.69,436.38 127.79,431.99 127.88,427.12 127.98,421.80 128.08,416.08 128.17,409.98 128.27,403.56 128.36,396.86 128.46,389.92 128.55,382.80 128.65,375.54 128.74,368.19 128.84,360.81 128.94,353.45 129.03,346.16 129.13,339.00 129.22,332.01 129.32,325.24 129.41,318.75 129.51,312.58 129.60,306.78 129.70,301.38 129.80,296.44 129.89,291.97 129.99,288.02 130.08,284.62 130.18,281.79 130.27,279.54 130.37,277.91 130.46,276.90 130.56,276.52 130.66,276.77 130.75,277.65 130.85,279.17 130.94,281.29 131.04,284.03 131.13,287.34 131.23,291.22 131.32,295.63 131.42,300.54 131.51,305.93 131.61,311.74 131.71,317.95 131.80,324.50 131.90,331.35 131.99,338.45 132.09,345.76 132.18,353.21 132.28,360.76 132.37,368.35 132.47,375.93 132.57,383.44 132.66,390.84 132.76,398.06 132.85,405.06 132.95,411.78 133.04,418.19 133.14,424.23 133.23,429.86 133.33,435.04 133.43,439.74 133.52,443.91 133.62,447.54 133.71,450.59 133.81,453.05 133.90,454.90 134.00,456.11 134.09,456.70 134.19,456.65 134.29,455.96 134.38,454.64 134.48,452.70 134.57,450.15 134.67,447.02 134.76,443.32 134.86,439.09 134.95,434.34 135.05,429.13 135.15,423.48 135.24,417.43 135.34,411.04 135.43,404.34 135.53,397.39 135.62,390.23 135.72,382.91 135.81,375.49 135.91,368.03 136.00,360.56 136.10,353.16 136.20,345.86 136.29,338.72 136.39,331.80 136.48,325.13 136.58,318.77 136.67,312.76 136.77,307.14 136.86,301.96 136.96,297.24 137.06,293.02 137.15,289.33 137.25,286.20 137.34,283.63 137.44,281.66 137.53,280.29 137.63,279.53 137.72,279.38 137.82,279.85 137.92,280.92 138.01,282.59 138.11,284.84 138.20,287.67 138.30,291.03 138.39,294.91 138.49,299.28 138.58,304.11 138.68,309.36 138.78,314.99 138.87,320.95 138.97,327.22 139.06,333.73 139.16,340.45 139.25,347.32 139.35,354.30 139.44,361.34 139.54,368.37 139.64,375.37 139.73,382.27 139.83,389.03 139.92,395.60 140.02,401.93 140.11,407.98 140.21,413.71 140.30,419.08 140.40,424.06 140.49,428.61 140.59,432.69 140.69,436.29 140.78,439.38 140.88,441.94 140.97,443.96 141.07,445.41 141.16,446.31 141.26,446.64 141.35,446.40 141.45,445.60 141.55,444.25 141.64,442.36 141.74,439.94 141.83,437.02 141.93,433.62 142.02,429.76 142.12,425.48 142.21,420.81 142.31,415.78 142.41,410.44 142.50,404.81 142.60,398.95 142.69,392.90 142.79,386.69 142.88,380.38 142.98,374.01 143.07,367.62 143.17,361.27 143.27,354.99 143.36,348.82 143.46,342.83 143.55,337.03 143.65,331.48 143.74,326.21 143.84,321.25 143.93,316.65 144.03,312.42 144.13,308.60 144.22,305.21 144.32,302.28 144.41,299.81 144.51,297.83 144.60,296.35 144.70,295.36 144.79,294.89 144.89,294.91 144.98,295.44 145.08,296.47 145.18,297.97 145.27,299.95 145.37,302.38 145.46,305.24 145.56,308.51 145.65,312.16 145.75,316.17 145.84,320.50 145.94,325.12 146.04,330.00 146.13,335.09 146.23,340.37 146.32,345.79 146.42,351.31 146.51,356.89 146.61,362.50 146.70,368.10 146.80,373.63 146.90,379.08 146.99,384.39 147.09,389.54 147.18,394.48 147.28,399.18 147.37,403.62 147.47,407.76 147.56,411.57 147.66,415.04 147.76,418.14 147.85,420.85 147.95,423.15 148.04,425.04 148.14,426.50 148.23,427.52 148.33,428.11 148.42,428.26 148.52,427.97 148.62,427.25 148.71,426.11 148.81,424.56 148.90,422.62 149.00,420.30 149.09,417.61 149.19,414.59 149.28,411.26 149.38,407.64 149.47,403.76 149.57,399.65 149.67,395.34 149.76,390.87 149.86,386.27 149.95,381.56 150.05,376.79 150.14,371.99 150.24,367.18 150.33,362.42 150.43,357.73 150.53,353.14 150.62,348.68 150.72,344.38 150.81,340.28 150.91,336.40 151.00,332.76 151.10,329.39 151.19,326.31 151.29,323.54 151.39,321.10 151.48,319.00 151.58,317.24 151.67,315.85 151.77,314.83 151.86,314.17 151.96,313.89 152.05,313.98 152.15,314.44 152.25,315.25 152.34,316.42 152.44,317.93 152.53,319.76 152.63,321.90 152.72,324.34 152.82,327.04 152.91,330.00 153.01,333.18 153.11,336.57 153.20,340.13 153.30,343.85 153.39,347.68 153.49,351.61 153.58,355.61 153.68,359.64 153.77,363.68 153.87,367.71 153.96,371.68 154.06,375.58 154.16,379.37 154.25,383.04 154.35,386.55 154.44,389.89 154.54,393.03 154.63,395.95 154.73,398.64 154.82,401.07 154.92,403.24 155.02,405.12 155.11,406.72 155.21,408.02 155.30,409.01 155.40,409.69 155.49,410.06 155.59,410.12 155.68,409.87 155.78,409.32 155.88,408.48 155.97,407.34 156.07,405.94 156.16,404.26 156.26,402.34 156.35,400.18 156.45,397.81 156.54,395.25 156.64,392.50 156.74,389.60 156.83,386.57 156.93,383.42 157.02,380.19 157.12,376.89 157.21,373.55 157.31,370.20 157.40,366.85 157.50,363.53 157.60,360.27 157.69,357.08 157.79,353.99 157.88,351.02 157.98,348.19 158.07,345.51 158.17,343.01 158.26,340.69 158.36,338.58 158.45,336.69 158.55,335.02 158.65,333.59 158.74,332.41 158.84,331.48 158.93,330.80 159.03,330.37 159.12,330.21 159.22,330.30 159.31,330.64 159.41,331.23 159.51,332.05 159.60,333.11 159.70,334.40 159.79,335.89 159.89,337.58 159.98,339.45 160.08,341.50 160.17,343.70 160.27,346.03 160.37,348.48 160.46,351.03 160.56,353.66 160.65,356.35 160.75,359.09 160.84,361.84 160.94,364.60 161.03,367.34 161.13,370.05 161.23,372.70 161.32,375.28 161.42,377.77 161.51,380.15 161.61,382.41 161.70,384.53 161.80,386.50 161.89,388.32 161.99,389.95 162.09,391.41 162.18,392.67 162.28,393.74 162.37,394.60 162.47,395.25 162.56,395.70 162.66,395.93 162.75,395.95 162.85,395.77 162.94,395.38 163.04,394.79 163.14,394.01 163.23,393.05 163.33,391.90 163.42,390.59 163.52,389.13 163.61,387.52 163.71,385.78 163.80,383.92 163.90,381.96 164.00,379.91 164.09,377.78 164.19,375.60 164.28,373.38 164.38,371.13 164.47,368.88 164.57,366.63 164.66,364.40 164.76,362.21 164.86,360.08 164.95,358.01 165.05,356.02 165.14,354.12 165.24,352.34 165.33,350.67 165.43,349.12 165.52,347.72 165.62,346.46 165.72,345.36 165.81,344.41 165.91,343.63 166.00,343.01 166.10,342.57 166.19,342.30 166.29,342.20 166.38,342.27 166.48,342.51 166.58,342.91 166.67,343.47 166.77,344.19 166.86,345.05 166.96,346.06 167.05,347.19 167.15,348.45 167.24,349.82 167.34,351.29 167.43,352.85 167.53,354.49 167.63,356.19 167.72,357.95 167.82,359.74 167.91,361.56 168.01,363.40 168.10,365.23 168.20,367.06 168.29,368.85 168.39,370.61 168.49,372.33 168.58,373.98 168.68,375.55 168.77,377.05 168.87,378.46 168.96,379.76 169.06,380.96 169.15,382.04 169.25,383.00 169.35,383.83 169.44,384.53 169.54,385.09 169.63,385.52 169.73,385.81 169.82,385.96 169.92,385.97 170.01,385.84 170.11,385.57 170.21,385.18 170.30,384.66 170.40,384.01 170.49,383.25 170.59,382.37 170.68,381.40 170.78,380.33 170.87,379.17 170.97,377.94 171.07,376.64 171.16,375.28 171.26,373.87 171.35,372.43 171.45,370.96 171.54,369.47 171.64,367.98 171.73,366.50 171.83,365.03 171.92,363.58 172.02,362.17 172.12,360.81 172.21,359.50 172.31,358.25 172.40,357.07 172.50,355.97 172.59,354.96 172.69,354.04 172.78,353.21 172.88,352.49 172.98,351.87 173.07,351.35 173.17,350.95 173.26,350.67 173.36,350.49 173.45,350.43 173.55,350.48 173.64,350.64 173.74,350.91 173.84,351.29 173.93,351.76 174.03,352.34 174.12,353.00 174.22,353.76 174.31,354.59 174.41,355.49 174.50,356.46 174.60,357.49 174.70,358.57 174.79,359.69 174.89,360.85 174.98,362.03 175.08,363.23 175.17,364.44 175.27,365.64 175.36,366.84 175.46,368.03 175.56,369.18 175.65,370.31 175.75,371.39 175.84,372.43 175.94,373.41 176.03,374.33 176.13,375.19 176.22,375.97 176.32,376.68 176.41,377.30 176.51,377.85 176.61,378.30 176.70,378.67 176.80,378.95 176.89,379.13 176.99,379.23 177.08,379.23 177.18,379.14 177.27,378.97 177.37,378.70 177.47,378.36 177.56,377.93 177.66,377.43 177.75,376.85 177.85,376.21 177.94,375.51 178.04,374.74 178.13,373.93 178.23,373.08 178.33,372.19 178.42,371.26 178.52,370.31 178.61,369.35 178.71,368.37 178.80,367.40 178.90,366.42 178.99,365.46 179.09,364.51 179.19,363.59 179.28,362.69 179.38,361.84 179.47,361.02 179.57,360.25 179.66,359.53 179.76,358.87 179.85,358.26 179.95,357.73 180.05,357.25 180.14,356.85 180.24,356.52 180.33,356.26 180.43,356.07 180.52,355.96 180.62,355.92 180.71,355.96 180.81,356.06 180.90,356.24 181.00,356.49 181.10,356.81 181.19,357.18 181.29,357.62 181.38,358.11 181.48,358.66 181.57,359.25 181.67,359.89 181.76,360.57 181.86,361.27 181.96,362.01 182.05,362.77 182.15,363.54 182.24,364.33 182.34,365.12 182.43,365.91 182.53,366.69 182.62,367.47 182.72,368.22 182.82,368.96 182.91,369.67 183.01,370.34 183.10,370.98 183.20,371.59 183.29,372.15 183.39,372.66 183.48,373.12 183.58,373.53 183.68,373.88 183.77,374.18 183.87,374.42 183.96,374.60 184.06,374.72 184.15,374.78 184.25,374.78 184.34,374.72 184.44,374.60 184.54,374.43 184.63,374.20 184.73,373.92 184.82,373.59 184.92,373.21 185.01,372.79 185.11,372.33 185.20,371.83 185.30,371.30 185.39,370.74 185.49,370.15 185.59,369.55 185.68,368.93 185.78,368.30 185.87,367.66 185.97,367.02 186.06,366.38 186.16,365.75 186.25,365.13 186.35,364.53 186.45,363.95 186.54,363.39 186.64,362.85 186.73,362.35 186.83,361.88 186.92,361.45 187.02,361.06 187.11,360.70 187.21,360.40 187.31,360.13 187.40,359.92 187.50,359.75 187.59,359.63 187.69,359.56 187.78,359.53 187.88,359.56 187.97,359.63 188.07,359.75 188.17,359.91 188.26,360.12 188.36,360.37 188.45,360.65 188.55,360.98 188.64,361.34 188.74,361.72 188.83,362.14 188.93,362.58 189.03,363.05 189.12,363.53 189.22,364.02 189.31,364.53 189.41,365.04 189.50,365.56 189.60,366.07 189.69,366.59 189.79,367.09 189.88,367.59 189.98,368.07 190.08,368.53 190.17,368.97 190.27,369.39 190.36,369.78 190.46,370.14 190.55,370.48 190.65,370.78 190.74,371.04 190.84,371.27 190.94,371.47 191.03,371.62 191.13,371.74 191.22,371.81 191.32,371.85 191.41,371.85 191.51,371.81 191.60,371.73 191.70,371.62 191.80,371.47 191.89,371.29 191.99,371.07 192.08,370.82 192.18,370.55 192.27,370.24 192.37,369.92 192.46,369.57 192.56,369.20 192.66,368.82 192.75,368.43 192.85,368.02 192.94,367.61 193.04,367.19 193.13,366.78 193.23,366.36 193.32,365.95 193.42,365.55 193.52,365.15 193.61,364.77 193.71,364.41 193.80,364.06 193.90,363.73 193.99,363.43 194.09,363.14 194.18,362.89 194.28,362.66 194.37,362.46 194.47,362.29 194.57,362.15 194.66,362.04 194.76,361.96 194.85,361.92 194.95,361.90 195.04,361.92 195.14,361.97 195.23,362.04 195.33,362.15 195.43,362.29 195.52,362.45 195.62,362.64 195.71,362.85 195.81,363.08 195.90,363.34 196.00,363.61 196.09,363.90 196.19,364.20 196.29,364.52 196.38,364.84 196.48,365.17 196.57,365.50 196.67,365.84 196.76,366.18 196.86,366.51 196.95,366.84 197.05,367.16 197.15,367.48 197.24,367.78 197.34,368.07 197.43,368.34 197.53,368.59 197.62,368.83 197.72,369.05 197.81,369.24 197.91,369.42 198.01,369.57 198.10,369.69 198.20,369.79 198.29,369.87 198.39,369.92 198.48,369.94 198.58,369.94 198.67,369.91 198.77,369.86 198.86,369.79 198.96,369.69 199.06,369.57 199.15,369.43 199.25,369.26 199.34,369.08 199.44,368.89 199.53,368.67 199.63,368.45 199.72,368.21 199.82,367.96 199.92,367.70 200.01,367.43 200.11,367.17 200.20,366.89 200.30,366.62 200.39,366.35 200.49,366.08 200.58,365.82 200.68,365.56 200.78,365.31 200.87,365.08 200.97,364.85 201.06,364.64 201.16,364.44 201.25,364.25 201.35,364.09 201.44,363.94 201.54,363.81 201.64,363.70 201.73,363.61 201.83,363.54 201.92,363.49 202.02,363.46 202.11,363.45 202.21,363.46 202.30,363.49 202.40,363.54 202.49,363.61 202.59,363.70 202.69,363.81 202.78,363.93 202.88,364.07 202.97,364.22 203.07,364.39 203.16,364.57 203.26,364.76 203.35,364.95 203.45,365.16 203.55,365.37 203.64,365.59 203.74,365.80 203.83,366.02 203.93,366.24 204.02,366.46 204.12,366.68 204.21,366.89 204.31,367.09 204.41,367.29 204.50,367.47 204.60,367.65 204.69,367.82 204.79,367.97 204.88,368.11 204.98,368.24 205.07,368.35 205.17,368.45 205.27,368.53 205.36,368.60 205.46,368.65 205.55,368.68 205.65,368.69 205.74,368.69 205.84,368.67 205.93,368.64 206.03,368.59 206.13,368.53 206.22,368.45 206.32,368.35 206.41,368.25 206.51,368.13 206.60,368.00 206.70,367.86 206.79,367.71 206.89,367.56 206.98,367.39 207.08,367.23 207.18,367.05 207.27,366.88 207.37,366.70 207.46,366.52 207.56,366.35 207.65,366.17 207.75,366.00 207.84,365.83 207.94,365.67 208.04,365.51 208.13,365.37 208.23,365.23 208.32,365.10 208.42,364.98 208.51,364.87 208.61,364.77 208.70,364.69 208.80,364.62 208.90,364.56 208.99,364.51 209.09,364.48 209.18,364.46 209.28,364.46 209.37,364.46 209.47,364.49 209.56,364.52 209.66,364.57 209.76,364.62 209.85,364.69 209.95,364.77 210.04,364.86 210.14,364.96 210.23,365.07 210.33,365.19 210.42,365.31 210.52,365.44 210.62,365.58 210.71,365.71 210.81,365.85 210.90,366.00 211.00,366.14 211.09,366.28 211.19,366.43 211.28,366.57 211.38,366.70 211.47,366.84 211.57,366.96 211.67,367.09 211.76,367.20 211.86,367.31 211.95,367.41 212.05,367.50 212.14,367.59 212.24,367.66 212.33,367.72 212.43,367.77 212.53,367.82 212.62,367.85 212.72,367.87 212.81,367.88 212.91,367.88 213.00,367.87 213.10,367.84 213.19,367.81 213.29,367.77 213.39,367.72 213.48,367.66 213.58,367.59 213.67,367.51 213.77,367.42 213.86,367.33 213.96,367.24 214.05,367.13 214.15,367.03 214.25,366.92 214.34,366.81 214.44,366.69 214.53,366.58 214.63,366.46 214.72,366.34 214.82,366.23 214.91,366.12 215.01,366.01 215.11,365.90 215.20,365.80 215.30,365.71 215.39,365.62 215.49,365.53 215.58,365.45 215.68,365.38 215.77,365.32 215.87,365.27 215.96,365.22 216.06,365.18 216.16,365.15 216.25,365.13 216.35,365.12 216.44,365.11 216.54,365.12 216.63,365.13 216.73,365.16 216.82,365.19 216.92,365.23 217.02,365.27 217.11,365.32 217.21,365.38 217.30,365.45 217.40,365.52 217.49,365.60 217.59,365.68 217.68,365.76 217.78,365.85 217.88,365.94 217.97,366.03 218.07,366.12 218.16,366.22 218.26,366.31 218.35,366.40 218.45,366.49 218.54,366.58 218.64,366.67 218.74,366.75 218.83,366.83 218.93,366.91 219.02,366.98 219.12,367.04 219.21,367.10 219.31,367.16 219.40,367.20 219.50,367.25 219.60,367.28 219.69,367.31 219.79,367.33 219.88,367.34 219.98,367.35 220.07,367.35 220.17,367.34 220.26,367.32 220.36,367.30 220.45,367.27 220.55,367.24 220.65,367.20 220.74,367.16 220.84,367.10 220.93,367.05 221.03,366.99 221.12,366.93 221.22,366.86 221.31,366.79 221.41,366.72 221.51,366.65 221.60,366.57 221.70,366.50 221.79,366.42 221.89,366.34 221.98,366.27 222.08,366.20 222.17,366.13 222.27,366.06 222.37,365.99 222.46,365.93 222.56,365.87 222.65,365.82 222.75,365.76 222.84,365.72 222.94,365.68 223.03,365.64 223.13,365.61 223.23,365.59 223.32,365.57 223.42,365.55 223.51,365.55 223.61,365.54 223.70,365.55 223.80,365.56 223.89,365.57 223.99,365.59 224.09,365.62 224.18,365.65 224.28,365.68 224.37,365.72 224.47,365.76 224.56,365.81 224.66,365.86 224.75,365.91 224.85,365.97 224.94,366.02 225.04,366.08 225.14,366.14 225.23,366.20 225.33,366.26 225.42,366.33 225.52,366.39 225.61,366.44 225.71,366.50 225.80,366.56 225.90,366.61 226.00,366.67 226.09,366.71 226.19,366.76 226.28,366.80 226.38,366.84 226.47,366.88 226.57,366.91 226.66,366.93 226.76,366.96 226.86,366.97 226.95,366.99 227.05,367.00 227.14,367.00 227.24,367.00 227.33,366.99 227.43,366.98 227.52,366.97 227.62,366.95 227.72,366.93 227.81,366.90 227.91,366.87 228.00,366.84 228.10,366.81 228.19,366.77 228.29,366.73 228.38,366.68 228.48,366.64 228.58,366.59 228.67,366.54 228.77,366.49 228.86,366.44 228.96,366.39 229.05,366.35 229.15,366.30 229.24,366.25 229.34,366.20 229.43,366.16 229.53,366.12 229.63,366.07 229.72,366.04 229.82,366.00 229.91,365.97 230.01,365.94 230.10,365.91 230.20,365.89 230.29,365.87 230.39,365.85 230.49,365.84 230.58,365.83 230.68,365.83 230.77,365.82 230.87,365.83 230.96,365.83 231.06,365.84 231.15,365.86 231.25,365.87 231.35,365.89 231.44,365.91 231.54,365.94 231.63,365.97 231.73,366.00 231.82,366.03 231.92,366.06 232.01,366.10 232.11,366.14 232.21,366.18 232.30,366.22 232.40,366.26 232.49,366.29 232.59,366.33 232.68,366.37 232.78,366.41 232.87,366.45 232.97,366.49 233.07,366.52 233.16,366.56 233.26,366.59 233.35,366.62 233.45,366.65 233.54,366.67 233.64,366.69 233.73,366.71 233.83,366.73 233.92,366.75 234.02,366.76 234.12,366.77 234.21,366.77 234.31,366.77 234.40,366.77 234.50,366.77 234.59,366.76 234.69,366.75 234.78,366.74 234.88,366.73 234.98,366.71 235.07,366.69 235.17,366.67 235.26,366.65 235.36,366.62 235.45,366.59 235.55,366.57 235.64,366.54 235.74,366.51 235.84,366.47 235.93,366.44 236.03,366.41 236.12,366.38 236.22,366.35 236.31,366.31 236.41,366.28 236.50,366.25 236.60,366.22 236.70,366.20 236.79,366.17 236.89,366.14 236.98,366.12 237.08,366.10 237.17,366.08 237.27,366.06 237.36,366.05 237.46,366.04 237.56,366.02 237.65,366.02 237.75,366.01 237.84,366.01 237.94,366.01 238.03,366.01 238.13,366.01 238.22,366.02 238.32,366.03 238.41,366.04 238.51,366.05 238.61,366.07 238.70,366.08 238.80,366.10 238.89,366.12 238.99,366.14 239.08,366.16 239.18,366.19 239.27,366.21 239.37,366.24 239.47,366.26 239.56,366.29 239.66,366.31 239.75,366.34 239.85,366.37 239.94,366.39 240.04,366.42 240.13,366.44 240.23,366.46 240.33,366.49 240.42,366.51 240.52,366.53 240.61,366.54 240.71,366.56 240.80,366.58 240.90,366.59 240.99,366.60 241.09,366.61 241.19,366.62 241.28,366.62 241.38,366.63 241.47,366.63 241.57,366.63 241.66,366.62 241.76,366.62 241.85,366.61 241.95,366.61 242.05,366.60 242.14,366.59 242.24,366.57 242.33,366.56 242.43,366.54 242.52,366.53 242.62,366.51 242.71,366.49 242.81,366.47 242.90,366.45 243.00,366.43 243.10,366.41 243.19,366.39 243.29,366.37 243.38,366.35 243.48,366.33 243.57,366.31 243.67,366.29 243.76,366.27 243.86,366.25 243.96,366.23 244.05,366.22 244.15,366.20 244.24,366.19 244.34,366.17 244.43,366.16 244.53,366.15 244.62,366.14 244.72,366.14 244.82,366.13 244.91,366.13 245.01,366.13 245.10,366.13 245.20,366.13 245.29,366.13 245.39,366.13 245.48,366.14 245.58,366.15 245.68,366.16 245.77,366.17 245.87,366.18 245.96,366.19 246.06,366.20 246.15,366.21 246.25,366.23 246.34,366.24 246.44,366.26 246.54,366.28 246.63,366.29 246.73,366.31 246.82,366.33 246.92,366.34 247.01,366.36 247.11,366.38 247.20,366.39 247.30,366.41 247.39,366.42 247.49,366.44 247.59,366.45 247.68,366.46 247.78,366.48 247.87,366.49 247.97,366.50 248.06,366.51 248.16,366.51 248.25,366.52 248.35,366.52 248.45,366.53 248.54,366.53 248.64,366.53 248.73,366.53 248.83,366.53 248.92,366.53 249.02,366.52 249.11,366.52 249.21,366.51 249.31,366.50 249.40,366.49 249.50,366.49 249.59,366.48 249.69,366.46 249.78,366.45 249.88,366.44 249.97,366.43 250.07,366.42 250.17,366.40 250.26,366.39 250.36,366.37 250.45,366.36 250.55,366.35 250.64,366.33 250.74,366.32 250.83,366.31 250.93,366.30 251.03,366.28 251.12,366.27 251.22,366.26 251.31,366.25 251.41,366.24 251.50,366.23 251.60,366.23 251.69,366.22 251.79,366.22 251.88,366.21 251.98,366.21 252.08,366.21 252.17,366.20 252.27,366.20 252.36,366.20 252.46,366.21 252.55,366.21 252.65,366.21 252.74,366.22 252.84,366.22 252.94,366.23 253.03,366.24 253.13,366.24 253.22,366.25 253.32,366.26 253.41,366.27 253.51,366.28 253.60,366.29 253.70,366.30 253.80,366.31 253.89,366.32 253.99,366.34 254.08,366.35 254.18,366.36 254.27,366.37 254.37,366.38 254.46,366.39 254.56,366.40 254.66,366.41 254.75,366.42 254.85,366.43 254.94,366.43 255.04,366.44 255.13,366.45 255.23,366.45 255.32,366.46 255.42,366.46 255.52,366.46 255.61,366.47 255.71,366.47 255.80,366.47 255.90,366.47 255.99,366.47 256.09,366.46 256.18,366.46 256.28,366.46 256.37,366.45 256.47,366.45 256.57,366.44 256.66,366.44 256.76,366.43 256.85,366.42 256.95,366.42 257.04,366.41 257.14,366.40 257.23,366.39 257.33,366.38 257.43,366.37 257.52,366.37 257.62,366.36 257.71,366.35 257.81,366.34 257.90,366.33 258.00,366.32 258.09,366.31 258.19,366.31 258.29,366.30 258.38,366.29 258.48,366.29 258.57,366.28 258.67,366.27 258.76,366.27 258.86,366.27 258.95,366.26 259.05,366.26 259.15,366.26 259.24,366.26 259.34,366.26 259.43,366.25 259.53,366.26 259.62,366.26 259.72,366.26 259.81,366.26 259.91,366.26 260.01,366.27 260.10,366.27 260.20,366.28 260.29,366.28 260.39,366.29 260.48,366.29 260.58,366.30 260.67,366.31 260.77,366.31 260.86,366.32 260.96,366.33 261.06,366.33 261.15,366.34 261.25,366.35 261.34,366.36 261.44,366.36 261.53,366.37 261.63,366.38 261.72,366.38 261.82,366.39 261.92,366.39 262.01,366.40 262.11,366.40 262.20,366.41 262.30,366.41 262.39,366.42 262.49,366.42 262.58,366.42 262.68,366.42 262.78,366.43 262.87,366.43 262.97,366.43 263.06,366.43 263.16,366.43 263.25,366.42 263.35,366.42 263.44,366.42 263.54,366.42 263.64,366.41 263.73,366.41 263.83,366.41 263.92,366.40 264.02,366.40 264.11,366.39 264.21,366.39 264.30,366.38 264.40,366.38 264.50,366.37 264.59,366.37 264.69,366.36 264.78,366.35 264.88,366.35 264.97,366.34 265.07,366.34 265.16,366.33 265.26,366.33 265.35,366.32 265.45,366.32 265.55,366.31 265.64,366.31 265.74,366.30 265.83,366.30 265.93,366.30 266.02,366.30 266.12,366.29 266.21,366.29 266.31,366.29 266.41,366.29 266.50,366.29 266.60,366.29 266.69,366.29 266.79,366.29 266.88,366.29 266.98,366.29 267.07,366.29 267.17,366.30 267.27,366.30 267.36,366.30 267.46,366.31 267.55,366.31 267.65,366.31 267.74,366.32 267.84,366.32 267.93,366.33 268.03,366.33 268.13,366.33 268.22,366.34 268.32,366.34 268.41,366.35 268.51,366.35 268.60,366.36 268.70,366.36 268.79,366.37 268.89,366.37 268.99,366.37 269.08,366.38 269.18,366.38 269.27,366.39 269.37,366.39 269.46,366.39 269.56,366.39 269.65,366.40 269.75,366.40 269.84,366.40 269.94,366.40 270.04,366.40 270.13,366.40 270.23,366.40 270.32,366.40 270.42,366.40 270.51,366.40 270.61,366.40 270.70,366.39 270.80,366.39 270.90,366.39 270.99,366.39 271.09,366.38 271.18,366.38 271.28,366.38 271.37,366.38 271.47,366.37 271.56,366.37 271.66,366.36 271.76,366.36 271.85,366.36 271.95,366.35 272.04,366.35 272.14,366.35 272.23,366.34 272.33,366.34 272.42,366.33 272.52,366.33 272.62,366.33 272.71,366.33 272.81,366.32 272.90,366.32 273.00,366.32 273.09,366.32 273.19,366.31 273.28,366.31 273.38,366.31 273.48,366.31 273.57,366.31 273.67,366.31 273.76,366.31 273.86,366.31 273.95,366.31 274.05,366.31 274.14,366.31 274.24,366.31 274.33,366.31 274.43,366.32 274.53,366.32 274.62,366.32 274.72,366.32 274.81,366.33 274.91,366.33 275.00,366.33 275.10,366.33 275.19,366.34 275.29,366.34 275.39,366.34 275.48,366.35 275.58,366.35 275.67,366.35 275.77,366.36 275.86,366.36 275.96,366.36 276.05,366.36 276.15,366.37 276.25,366.37 276.34,366.37 276.44,366.37 276.53,366.38 276.63,366.38 276.72,366.38 276.82,366.38 276.91,366.38 277.01,366.38 277.11,366.38 277.20,366.38 277.30,366.38 277.39,366.38 277.49,366.38 277.58,366.38 277.68,366.38 277.77,366.38 277.87,366.38 277.97,366.38 278.06,366.38 278.16,366.37 278.25,366.37 278.35,366.37 278.44,366.37 278.54,366.37 278.63,366.36 278.73,366.36 278.82,366.36 278.92,366.36 279.02,366.35 279.11,366.35 279.21,366.35 279.30,366.35 279.40,366.34 279.49,366.34 279.59,366.34 279.68,366.34 279.78,366.34 279.88,366.33 279.97,366.33 280.07,366.33 280.16,366.33 280.26,366.33 280.35,366.33 280.45,366.33 280.54,366.32 280.64,366.32 280.74,366.32 280.83,366.32 280.93,366.32 281.02,366.32 281.12,366.32 281.21,366.32 281.31,366.33 281.40,366.33 281.50,366.33 281.60,366.33 281.69,366.33 281.79,366.33 281.88,366.33 281.98,366.33 282.07,366.34 282.17,366.34 282.26,366.34 282.36,366.34 282.46,366.34 282.55,366.35 282.65,366.35 282.74,366.35 282.84,366.35 282.93,366.35 283.03,366.36 283.12,366.36 283.22,366.36 283.31,366.36 283.41,366.36 283.51,366.36 283.60,366.37 283.70,366.37 283.79,366.37 283.89,366.37 283.98,366.37 284.08,366.37 284.17,366.37 284.27,366.37 284.37,366.37 284.46,366.37 284.56,366.37 284.65,366.37 284.75,366.37 284.84,366.37 284.94,366.37 285.03,366.37 285.13,366.37 285.23,366.37 285.32,366.37 285.42,366.36 285.51,366.36 285.61,366.36 285.70,366.36 285.80,366.36 285.89,366.36 285.99,366.36 286.09,366.35 286.18,366.35 286.28,366.35 286.37,366.35 286.47,366.35 286.56,366.35 286.66,366.34 286.75,366.34 286.85,366.34 286.95,366.34 287.04,366.34 287.14,366.34 287.23,366.34 287.33,366.34 287.42,366.34 287.52,366.33 287.61,366.33 287.71,366.33 287.80,366.33 287.90,366.33 288.00,366.33 288.09,366.33 288.19,366.33 288.28,366.33 288.38,366.33 288.47,366.33 288.57,366.33 288.66,366.34 288.76,366.34 288.86,366.34 288.95,366.34 289.05,366.34 289.14,366.34 289.24,366.34 289.33,366.34 289.43,366.34 289.52,366.34 289.62,366.35 289.72,366.35 289.81,366.35 289.91,366.35 290.00,366.35 290.10,366.35 290.19,366.35 290.29,366.35 290.38,366.36 290.48,366.36 290.58,366.36 290.67,366.36 290.77,366.36 290.86,366.36 290.96,366.36 291.05,366.36 291.15,366.36 291.24,366.36 291.34,366.36 291.44,366.36 291.53,366.36 291.63,366.36 291.72,366.36 291.82,366.36 291.91,366.36 292.01,366.36 292.10,366.36 292.20,366.36 292.29,366.36 292.39,366.36 292.49,366.36 292.58,366.36 292.68,366.36 292.77,366.36 292.87,366.36 292.96,366.36 293.06,366.35 293.15,366.35 293.25,366.35 293.35,366.35 293.44,366.35 293.54,366.35 293.63,366.35 293.73,366.35 293.82,366.35 293.92,366.35 294.01,366.34 294.11,366.34 294.21,366.34 294.30,366.34 294.40,366.34 294.49,366.34 294.59,366.34 294.68,366.34 294.78,366.34 294.87,366.34 294.97,366.34 295.07,366.34 295.16,366.34 295.26,366.34 295.35,366.34 295.45,366.34 295.54,366.34 295.64,366.34 295.73,366.34 295.83,366.34 295.93,366.34 296.02,366.34 296.12,366.34 296.21,366.34 296.31,366.34 296.40,366.34 296.50,366.34 296.59,366.35 296.69,366.35 296.78,366.35 296.88,366.35 296.98,366.35 297.07,366.35 297.17,366.35 297.26,366.35 297.36,366.35 297.45,366.35 297.55,366.35 297.64,366.35 297.74,366.36 297.84,366.36 297.93,366.36 298.03,366.36 298.12,366.36 298.22,366.36 298.31,366.36 298.41,366.36 298.50,366.36 298.60,366.36 298.70,366.36 298.79,366.36 298.89,366.36 298.98,366.36 299.08,366.36 299.17,366.36 299.27,366.36 299.36,366.36 299.46,366.36 299.56,366.36 299.65,366.36 299.75,366.36 299.84,366.36 299.94,366.36 300.03,366.35 300.13,366.35 300.22,366.35 300.32,366.35 300.42,366.35 300.51,366.35 300.61,366.35 300.70,366.35 300.80,366.35 300.89,366.35 300.99,366.35 301.08,366.35 301.18,366.35 301.27,366.35 301.37,366.35 301.47,366.35 301.56,366.34 301.66,366.34 301.75,366.34 301.85,366.34 301.94,366.34 302.04,366.34 302.13,366.34 302.23,366.34 302.33,366.34 302.42,366.34 302.52,366.34 302.61,366.34 302.71,366.34 302.80,366.34 302.90,366.34 302.99,366.34 303.09,366.34 303.19,366.34 303.28,366.34 303.38,366.35 303.47,366.35 303.57,366.35 303.66,366.35 303.76,366.35 303.85,366.35 303.95,366.35 304.05,366.35 304.14,366.35 304.24,366.35 304.33,366.35 304.43,366.35 304.52,366.35 304.62,366.35 304.71,366.35 304.81,366.35 304.91,366.35 305.00,366.35 305.10,366.35 305.19,366.35 305.29,366.35 305.38,366.36 305.48,366.36 305.57,366.36 305.67,366.36 305.76,366.36 305.86,366.36 305.96,366.36 306.05,366.36 306.15,366.36 306.24,366.36 306.34,366.36 306.43,366.36 306.53,366.36 306.62,366.35 306.72,366.35 306.82,366.35 306.91,366.35 307.01,366.35 307.10,366.35 307.20,366.35 307.29,366.35 307.39,366.35 307.48,366.35 307.58,366.35 307.68,366.35 307.77,366.35 307.87,366.35 307.96,366.35 308.06,366.35 308.15,366.35 308.25,366.35 308.34,366.35 308.44,366.35 308.54,366.35 308.63,366.35 308.73,366.35 308.82,366.35 308.92,366.35 309.01,366.35 309.11,366.35 309.20,366.35 309.30,366.35 309.40,366.35 309.49,366.35 309.59,366.35 309.68,366.35 309.78,366.35 309.87,366.35 309.97,366.35 310.06,366.35 310.16,366.35 310.25,366.35 310.35,366.35 310.45,366.35 310.54,366.35 310.64,366.35 310.73,366.35 310.83,366.35 310.92,366.35 311.02,366.35 311.11,366.35 311.21,366.35 311.31,366.35 311.40,366.35 311.50,366.35 311.59,366.35 311.69,366.35 311.78,366.35 311.88,366.35 311.97,366.35 312.07,366.35 312.17,366.35 312.26,366.35 312.36,366.35 312.45,366.35 312.55,366.35 312.64,366.35 312.74,366.35 312.83,366.35 312.93,366.35 313.03,366.35 313.12,366.35 313.22,366.35 313.31,366.35 313.41,366.35 313.50,366.35 313.60,366.35 313.69,366.35 313.79,366.35 313.89,366.35 313.98,366.35 314.08,366.35 314.17,366.35 314.27,366.35 314.36,366.35 314.46,366.35 314.55,366.35 314.65,366.35 314.74,366.35 314.84,366.35 314.94,366.35 315.03,366.35 315.13,366.35 315.22,366.35 315.32,366.35 315.41,366.35 315.51,366.35 315.60,366.35 315.70,366.35 315.80,366.35 315.89,366.35 315.99,366.35 316.08,366.35 316.18,366.35 316.27,366.35 316.37,366.35 316.46,366.35 316.56,366.35 316.66,366.35 316.75,366.35 316.85,366.35 316.94,366.35 317.04,366.35 317.13,366.35 317.23,366.35 317.32,366.35 317.42,366.35 317.52,366.35 317.61,366.35 317.71,366.35 317.80,366.35 317.90,366.35 317.99,366.35 318.09,366.35 318.18,366.35 318.28,366.35 318.38,366.35 318.47,366.35 318.57,366.35 318.66,366.35 318.76,366.35 318.85,366.35 318.95,366.35 319.04,366.35 319.14,366.35 319.23,366.35 319.33,366.35 319.43,366.35 319.52,366.35 319.62,366.35 319.71,366.35 319.81,366.35 319.90,366.35 320.00,366.35 320.09,366.35 320.19,366.35 320.29,366.35 320.38,366.35 320.48,366.35 320.57,366.35 320.67,366.35 320.76,366.35 320.86,366.35 320.95,366.35 321.05,366.35 321.15,366.35 321.24,366.35 321.34,366.35 321.43,366.35 321.53,366.35 321.62,366.35 321.72,366.35 321.81,366.35 321.91,366.35 322.01,366.35 322.10,366.35 322.20,366.35 322.29,366.35 322.39,366.35 322.48,366.35 322.58,366.35 322.67,366.35 322.77,366.35 322.87,366.35 322.96,366.35 323.06,366.35 323.15,366.35 323.25,366.35 323.34,366.35 323.44,366.35 323.53,366.35 323.63,366.35 323.72,366.35 323.82,366.35 323.92,366.35 324.01,366.35 324.11,366.35 324.20,366.35 324.30,366.35 324.39,366.35 324.49,366.35 324.58,366.35 324.68,366.35 324.78,366.35 324.87,366.35 324.97,366.35 325.06,366.35 325.16,366.35 325.25,366.35 325.35,366.35 325.44,366.35 325.54,366.35 325.64,366.35 325.73,366.35 325.83,366.35 325.92,366.35 326.02,366.35 326.11,366.35 326.21,366.35 326.30,366.35 326.40,366.35 326.50,366.35 326.59,366.35 326.69,366.35 326.78,366.35 326.88,366.35 326.97,366.35 327.07,366.35 327.16,366.35 327.26,366.35 327.36,366.35 327.45,366.35 327.55,366.35 327.64,366.35 327.74,366.35 327.83,366.35 327.93,366.35 328.02,366.35 328.12,366.35 328.21,366.35 328.31,366.35 328.41,366.35 328.50,366.35 328.60,366.35 328.69,366.35 328.79,366.35 328.88,366.35 328.98,366.35 329.07,366.35 329.17,366.35 329.27,366.35 329.36,366.35 329.46,366.35 329.55,366.35 329.65,366.35 329.74,366.35 329.84,366.35 329.93,366.35 330.03,366.35 330.13,366.35 330.22,366.35 330.32,366.35 330.41,366.35 330.51,366.35 330.60,366.35 330.70,366.35 330.79,366.35 330.89,366.35 330.99,366.35 331.08,366.35 331.18,366.35 331.27,366.35 331.37,366.35 331.46,366.35 331.56,366.35 331.65,366.35 331.75,366.35 331.85,366.35 331.94,366.35 332.04,366.35 332.13,366.35 332.23,366.35 332.32,366.35 332.42,366.35 332.51,366.35 332.61,366.35 332.70,366.35 332.80,366.35 332.90,366.35 332.99,366.35 333.09,366.35 333.18,366.35 333.28,366.35 333.37,366.35 333.47,366.35 333.56,366.35 333.66,366.35 333.76,366.35 333.85,366.35 333.95,366.35 334.04,366.35 334.14,366.35 334.23,366.35 334.33,366.35 334.42,366.35 334.52,366.35 334.62,366.35 334.71,366.35 334.81,366.35 334.90,366.35 335.00,366.35 335.09,366.35 335.19,366.35 335.28,366.35 335.38,366.35 335.48,366.35 335.57,366.35 335.67,366.35 335.76,366.35 335.86,366.35 335.95,366.35 336.05,366.35 336.14,366.35 336.24,366.35 336.34,366.35 336.43,366.35 336.53,366.35 336.62,366.35 336.72,366.35 336.81,366.35 336.91,366.35 337.00,366.35 337.10,366.35 337.19,366.35 337.29,366.35 337.39,366.35 337.48,366.35 337.58,366.35 337.67,366.35 337.77,366.35 337.86,366.35 337.96,366.35 338.05,366.35 338.15,366.35 338.25,366.35 338.34,366.35 338.44,366.35 338.53,366.35 338.63,366.35 338.72,366.35 338.82,366.35 338.91,366.35 339.01,366.35 339.11,366.35 339.20,366.35 339.30,366.35 339.39,366.35 339.49,366.35 339.58,366.35 339.68,366.35 339.77,366.35 339.87,366.35 339.97,366.35 340.06,366.35 340.16,366.35 340.25,366.35 340.35,366.35 340.44,366.35 340.54,366.35 340.63,366.35 340.73,366.35 340.83,366.35 340.92,366.35 341.02,366.35 341.11,366.35 341.21,366.35 341.30,366.35 341.40,366.35 341.49,366.35 341.59,366.35 341.68,366.35 341.78,366.35 341.88,366.35 341.97,366.35 342.07,366.35 342.16,366.35 342.26,366.35 342.35,366.35 342.45,366.35 342.54,366.35 342.64,366.35 342.74,366.35 342.83,366.35 342.93,366.35 343.02,366.35 343.12,366.35 343.21,366.35 343.31,366.35 343.40,366.35 344.30,366.35" fill="none" stroke="#3030ff" stroke-width="1.2" stroke-dasharray="3.5 2.75" stroke-dashoffset="3.07"/>
<text x="183" y="226.6"><tspan font-style="italic">t</tspan> [fs]</text>
<text x="166.7" y="247.7" font-size="13.4">(a)</text>
<text x="194.5" y="497.5"><tspan font-style="italic">t</tspan> / <tspan font-style="italic">T</tspan></text>
<text x="166.4" y="518.3" font-size="13.4">(b)</text>
<g transform="translate(0,131.1) rotate(-90)"><text x="0" y="13.4" font-style="italic">E</text><text x="8.5" y="16.4" font-size="9" font-style="italic">z</text><text x="11.60" y="9.10" font-size="9.5">(</text><text x="14.90" y="8.30" font-size="6.5">0</text><text x="16.60" y="9.10" font-size="9.5">)</text><text x="24.3" y="13.4">[GV/m]</text></g>
<g transform="translate(0,405.8) rotate(-90)"><text x="0" y="11.0" font-style="italic">E</text><text x="8.3" y="14.0" font-size="9" font-style="italic">z</text><text x="11.20" y="6.70" font-size="9.5">(</text><text x="14.50" y="5.90" font-size="6.5">0</text><text x="16.20" y="6.70" font-size="9.5">)</text><text x="22.2" y="11.0">/</text><text x="29.3" y="11.0">|</text><text x="33.0" y="11.0" font-style="italic">E</text><text x="41.3" y="14.0" font-size="9" font-style="italic">z</text><text x="44.60" y="6.70" font-size="9.5">(</text><text x="47.90" y="5.90" font-size="6.5">0</text><text x="49.60" y="6.70" font-size="9.5">)</text><text x="52.9" y="11.0">|</text><text x="56.6" y="14.0" font-size="9">max</text></g>
<rect x="271.5" y="11.9" width="66.19999999999999" height="33.0" fill="#000"/>
<rect x="269.5" y="9.9" width="66.19999999999999" height="33.0" fill="#fff" stroke="#c8c8c8" stroke-width="0.8"/>
<path d="M272.5,19.0H285" stroke="#ff98c4" stroke-width="1.3"/>
<path d="M272.2,35.0H284.5" stroke="#5050ff" stroke-width="1.3"/>
<text x="287" y="22.8">:</text>
<text transform="translate(294.7,22.8) scale(1.12,1)" font-style="italic">α</text>
<text x="305.0" y="22.8">=<tspan dx="0.3">0.5</tspan></text>
<text x="287" y="38.4">:</text>
<text transform="translate(294.7,38.4) scale(1.12,1)" font-style="italic">α</text>
<text x="305.0" y="38.4">=<tspan dx="0.3">1.5</tspan></text>
<rect x="271.5" y="282.3" width="66.19999999999999" height="33.0" fill="#000"/>
<rect x="269.5" y="280.3" width="66.19999999999999" height="33.0" fill="#fff" stroke="#c8c8c8" stroke-width="0.8"/>
<path d="M272.5,289.40000000000003H285" stroke="#ff98c4" stroke-width="1.3"/>
<path d="M272.9,305.40000000000003H285" stroke="#4040ff" stroke-width="1.3" stroke-dasharray="3.7 1.4 1.4 1.5"/>
<text x="287" y="293.2">:</text>
<text transform="translate(294.7,293.2) scale(1.12,1)" font-style="italic">α</text>
<text x="305.0" y="293.2">=<tspan dx="0.3">0.5</tspan></text>
<text x="287" y="308.8">:</text>
<text transform="translate(294.7,308.8) scale(1.12,1)" font-style="italic">α</text>
<text x="305.0" y="308.8">=<tspan dx="0.3">1.5</tspan></text>
</svg></body></html>
